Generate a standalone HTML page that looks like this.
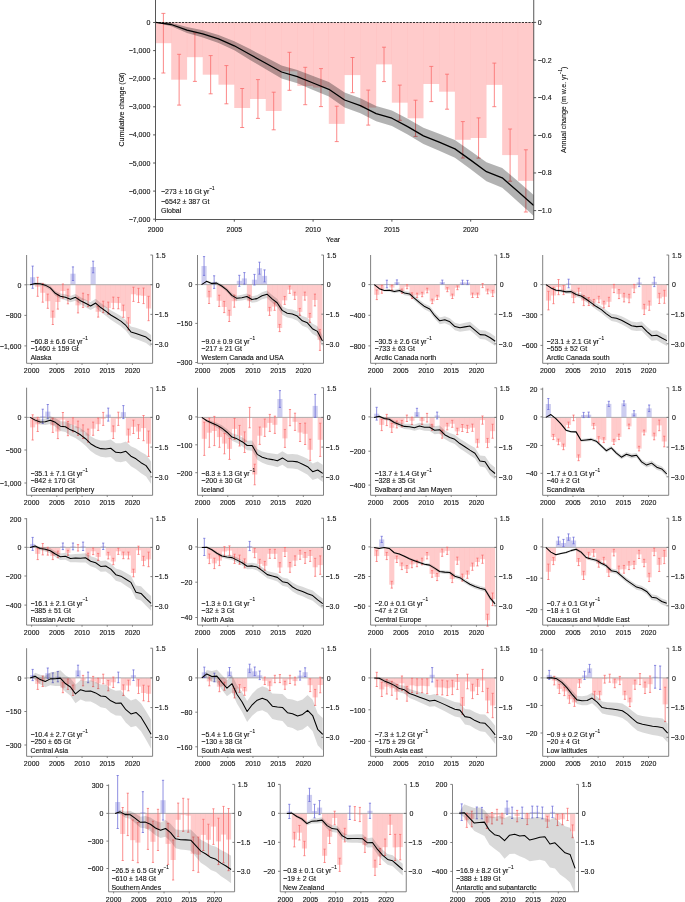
<!DOCTYPE html>
<html><head><meta charset="utf-8"><style>
html,body{margin:0;padding:0;background:#fff;}
svg{display:block;will-change:transform;}
</style></head><body>
<svg width="685" height="902" viewBox="0 0 685 902" font-family='"Liberation Sans", sans-serif'>
<g>
<rect x="155.42" y="22.5" width="15.92" height="20.7" fill="rgba(255,0,0,0.205)"/>
<rect x="171.18" y="22.5" width="15.92" height="57.2" fill="rgba(255,0,0,0.205)"/>
<rect x="186.94" y="22.5" width="15.92" height="34.7" fill="rgba(255,0,0,0.205)"/>
<rect x="202.7" y="22.5" width="15.92" height="52.2" fill="rgba(255,0,0,0.205)"/>
<rect x="218.46" y="22.5" width="15.92" height="62.2" fill="rgba(255,0,0,0.205)"/>
<rect x="234.22" y="22.5" width="15.92" height="85.5" fill="rgba(255,0,0,0.205)"/>
<rect x="249.98" y="22.5" width="15.92" height="76.5" fill="rgba(255,0,0,0.205)"/>
<rect x="265.74" y="22.5" width="15.92" height="88.5" fill="rgba(255,0,0,0.205)"/>
<rect x="281.5" y="22.5" width="15.92" height="48.8" fill="rgba(255,0,0,0.205)"/>
<rect x="297.26" y="22.5" width="15.92" height="63.5" fill="rgba(255,0,0,0.205)"/>
<rect x="313.02" y="22.5" width="15.92" height="65.1" fill="rgba(255,0,0,0.205)"/>
<rect x="328.78" y="22.5" width="15.92" height="101.4" fill="rgba(255,0,0,0.205)"/>
<rect x="344.54" y="22.5" width="15.92" height="52.6" fill="rgba(255,0,0,0.205)"/>
<rect x="360.3" y="22.5" width="15.92" height="85.1" fill="rgba(255,0,0,0.205)"/>
<rect x="376.06" y="22.5" width="15.92" height="41.9" fill="rgba(255,0,0,0.205)"/>
<rect x="391.82" y="22.5" width="15.92" height="80.2" fill="rgba(255,0,0,0.205)"/>
<rect x="407.58" y="22.5" width="15.92" height="95.8" fill="rgba(255,0,0,0.205)"/>
<rect x="423.34" y="22.5" width="15.92" height="61.5" fill="rgba(255,0,0,0.205)"/>
<rect x="439.1" y="22.5" width="15.92" height="69.2" fill="rgba(255,0,0,0.205)"/>
<rect x="454.86" y="22.5" width="15.92" height="117.3" fill="rgba(255,0,0,0.205)"/>
<rect x="470.62" y="22.5" width="15.92" height="115.5" fill="rgba(255,0,0,0.205)"/>
<rect x="486.38" y="22.5" width="15.92" height="62.4" fill="rgba(255,0,0,0.205)"/>
<rect x="502.14" y="22.5" width="15.92" height="132.6" fill="rgba(255,0,0,0.205)"/>
<rect x="517.9" y="22.5" width="15.92" height="158.4" fill="rgba(255,0,0,0.205)"/>
</g>
<g stroke="#fa6b6b" stroke-width="0.8" fill="none">
<path d="M163.38,13.4V73M161.38,13.4H165.38M161.38,73H165.38"/>
<path d="M179.14,54.3V105.1M177.14,54.3H181.14M177.14,105.1H181.14"/>
<path d="M194.9,33V81.4M192.9,33H196.9M192.9,81.4H196.9"/>
<path d="M210.66,55.6V93.8M208.66,55.6H212.66M208.66,93.8H212.66"/>
<path d="M226.42,65.6V103.8M224.42,65.6H228.42M224.42,103.8H228.42"/>
<path d="M242.18,88.5V127.5M240.18,88.5H244.18M240.18,127.5H244.18"/>
<path d="M257.94,79.6V118.4M255.94,79.6H259.94M255.94,118.4H259.94"/>
<path d="M273.7,92.2V129.8M271.7,92.2H275.7M271.7,129.8H275.7"/>
<path d="M289.46,52.3V90.3M287.46,52.3H291.46M287.46,90.3H291.46"/>
<path d="M305.22,67.3V104.7M303.22,67.3H307.22M303.22,104.7H307.22"/>
<path d="M320.98,68.6V106.6M318.98,68.6H322.98M318.98,106.6H322.98"/>
<path d="M336.74,106.2V141.6M334.74,106.2H338.74M334.74,141.6H338.74"/>
<path d="M352.5,57.5V92.7M350.5,57.5H354.5M350.5,92.7H354.5"/>
<path d="M368.26,90.1V125.1M366.26,90.1H370.26M366.26,125.1H370.26"/>
<path d="M384.02,47.2V81.6M382.02,47.2H386.02M382.02,81.6H386.02"/>
<path d="M399.78,85.1V120.3M397.78,85.1H401.78M397.78,120.3H401.78"/>
<path d="M415.54,100.2V136.4M413.54,100.2H417.54M413.54,136.4H417.54"/>
<path d="M431.3,66.4V101.6M429.3,66.4H433.3M429.3,101.6H433.3"/>
<path d="M447.06,74.2V109.2M445.06,74.2H449.06M445.06,109.2H449.06"/>
<path d="M462.82,121.6V158M460.82,121.6H464.82M460.82,158H464.82"/>
<path d="M478.58,117.9V158.1M476.58,117.9H480.58M476.58,158.1H480.58"/>
<path d="M494.34,63.1V106.7M492.34,63.1H496.34M492.34,106.7H496.34"/>
<path d="M510.1,129V181.2M508.1,129H512.1M508.1,181.2H512.1"/>
<path d="M525.86,149.8V212M523.86,149.8H527.86M523.86,212H527.86"/>
</g>
<polygon points="155.5,22.4 171.26,22.7 187.02,27.1 202.78,30.2 218.54,34.9 234.3,41.3 250.06,49.1 265.82,57.35 281.58,65.5 297.34,69.88 313.1,76.05 328.86,82.12 344.62,92.6 360.38,98.17 376.14,106.05 391.9,110.42 407.66,118.7 423.42,127.7 439.18,133.7 454.94,140.1 470.7,150.94 486.46,162.18 502.22,167.92 517.98,181.26 533.74,194.9 533.74,216.1 517.98,201.74 502.22,187.68 486.46,181.22 470.7,169.26 454.94,157.7 439.18,150.7 423.42,144.1 407.66,134.5 391.9,125.98 376.14,121.35 360.38,113.23 344.62,107.4 328.86,96.47 313.1,89.95 297.34,83.32 281.58,78.5 265.82,69.25 250.06,59.9 234.3,50.3 218.54,42.9 202.78,37.4 187.02,33.1 171.26,26.3 155.5,22.4" fill="rgba(0,0,0,0.3)" stroke="none" stroke-linejoin="round"/>
<polyline points="155.5,22.4 171.26,24.5 187.02,30.1 202.78,33.8 218.54,38.9 234.3,45.8 250.06,54.5 265.82,63.3 281.58,72 297.34,76.6 313.1,83 328.86,89.3 344.62,100 360.38,105.7 376.14,113.7 391.9,118.2 407.66,126.6 423.42,135.9 439.18,142.2 454.94,148.9 470.7,160.1 486.46,171.7 502.22,177.8 517.98,191.5 533.74,205.5" fill="none" stroke="#000" stroke-width="1.3" stroke-linejoin="round"/>
<line x1="155.5" y1="22.5" x2="533.74" y2="22.5" stroke="#000" stroke-width="0.8" stroke-dasharray="2.2,1.1"/>
<g stroke="#444" stroke-width="0.9" fill="none">
<path d="M155.5,0V219.5H533.74V0"/>
<path d="M153.1,22.5H155.5"/>
<path d="M153.1,50.6H155.5"/>
<path d="M153.1,78.7H155.5"/>
<path d="M153.1,106.8H155.5"/>
<path d="M153.1,134.9H155.5"/>
<path d="M153.1,163H155.5"/>
<path d="M153.1,191.1H155.5"/>
<path d="M153.1,219.2H155.5"/>
<path d="M533.74,22.4H536.14"/>
<path d="M533.74,60.04H536.14"/>
<path d="M533.74,97.68H536.14"/>
<path d="M533.74,135.32H536.14"/>
<path d="M533.74,172.96H536.14"/>
<path d="M533.74,210.6H536.14"/>
<path d="M155.5,219.5V221.7"/>
<path d="M234.3,219.5V221.7"/>
<path d="M313.1,219.5V221.7"/>
<path d="M391.9,219.5V221.7"/>
<path d="M470.7,219.5V221.7"/>
</g>
<g font-family='"Liberation Sans", sans-serif' fill="#111" stroke="#111" stroke-width="0.12">
<text x="150.3" y="25" font-size="7" text-anchor="end" >0</text>
<text x="150.3" y="53.1" font-size="7" text-anchor="end" >&#8722;1,000</text>
<text x="150.3" y="81.2" font-size="7" text-anchor="end" >&#8722;2,000</text>
<text x="150.3" y="109.3" font-size="7" text-anchor="end" >&#8722;3,000</text>
<text x="150.3" y="137.4" font-size="7" text-anchor="end" >&#8722;4,000</text>
<text x="150.3" y="165.5" font-size="7" text-anchor="end" >&#8722;5,000</text>
<text x="150.3" y="193.6" font-size="7" text-anchor="end" >&#8722;6,000</text>
<text x="150.3" y="221.7" font-size="7" text-anchor="end" >&#8722;7,000</text>
<text x="537.74" y="24.9" font-size="7" text-anchor="start" >0</text>
<text x="537.74" y="62.54" font-size="7" text-anchor="start" >&#8722;0.2</text>
<text x="537.74" y="100.18" font-size="7" text-anchor="start" >&#8722;0.4</text>
<text x="537.74" y="137.82" font-size="7" text-anchor="start" >&#8722;0.6</text>
<text x="537.74" y="175.46" font-size="7" text-anchor="start" >&#8722;0.8</text>
<text x="537.74" y="213.1" font-size="7" text-anchor="start" >&#8722;1.0</text>
<text x="155.5" y="231.5" font-size="7" text-anchor="middle" >2000</text>
<text x="234.3" y="231.5" font-size="7" text-anchor="middle" >2005</text>
<text x="313.1" y="231.5" font-size="7" text-anchor="middle" >2010</text>
<text x="391.9" y="231.5" font-size="7" text-anchor="middle" >2015</text>
<text x="470.7" y="231.5" font-size="7" text-anchor="middle" >2020</text>
<text x="333.1" y="242.2" font-size="7" text-anchor="middle" >Year</text>
<text x="0" y="0" font-size="7" text-anchor="middle" transform="translate(123.8,109.6) rotate(-90)">Cumulative change (Gt)</text>
<text x="0" y="0" font-size="7" text-anchor="middle" transform="translate(565.7,109.8) rotate(-90)">Annual change (m w.e. yr<tspan font-size="4.5" dy="-3.4">&#8722;1</tspan><tspan dy="3.4">)</tspan></text>
<text x="161" y="194.1" font-size="7" text-anchor="start" >&#8722;273 &#177; 16 Gt yr<tspan font-size="4.5" dy="-4.2">&#8722;1</tspan></text>
<text x="161" y="203.6" font-size="7" text-anchor="start" >&#8722;6542 &#177; 387 Gt</text>
<text x="161" y="212.6" font-size="7" text-anchor="start" >Global</text>
</g>
<g>
<rect x="30.07" y="277.2" width="5.16" height="7.5" fill="rgba(40,40,190,0.23)"/>
<rect x="35.11" y="284.7" width="5.16" height="2.1" fill="rgba(255,0,0,0.205)"/>
<rect x="40.15" y="284.7" width="5.16" height="8.1" fill="rgba(255,0,0,0.205)"/>
<rect x="45.19" y="284.7" width="5.16" height="16.5" fill="rgba(255,0,0,0.205)"/>
<rect x="50.23" y="284.7" width="5.16" height="33.1" fill="rgba(255,0,0,0.205)"/>
<rect x="55.27" y="284.7" width="5.16" height="17.3" fill="rgba(255,0,0,0.205)"/>
<rect x="60.31" y="284.7" width="5.16" height="6.3" fill="rgba(255,0,0,0.205)"/>
<rect x="65.35" y="284.7" width="5.16" height="11.8" fill="rgba(255,0,0,0.205)"/>
<rect x="70.39" y="273.7" width="5.16" height="11" fill="rgba(40,40,190,0.23)"/>
<rect x="75.43" y="284.7" width="5.16" height="20.7" fill="rgba(255,0,0,0.205)"/>
<rect x="80.47" y="284.7" width="5.16" height="15.6" fill="rgba(255,0,0,0.205)"/>
<rect x="85.51" y="284.7" width="5.16" height="16" fill="rgba(255,0,0,0.205)"/>
<rect x="90.55" y="267" width="5.16" height="17.7" fill="rgba(40,40,190,0.23)"/>
<rect x="95.59" y="284.7" width="5.16" height="27.1" fill="rgba(255,0,0,0.205)"/>
<rect x="100.63" y="284.7" width="5.16" height="22.2" fill="rgba(255,0,0,0.205)"/>
<rect x="105.67" y="284.7" width="5.16" height="23.4" fill="rgba(255,0,0,0.205)"/>
<rect x="110.71" y="284.7" width="5.16" height="18.2" fill="rgba(255,0,0,0.205)"/>
<rect x="115.75" y="284.7" width="5.16" height="18.4" fill="rgba(255,0,0,0.205)"/>
<rect x="120.79" y="284.7" width="5.16" height="26.5" fill="rgba(255,0,0,0.205)"/>
<rect x="125.83" y="284.7" width="5.16" height="39.1" fill="rgba(255,0,0,0.205)"/>
<rect x="130.87" y="284.7" width="5.16" height="9.6" fill="rgba(255,0,0,0.205)"/>
<rect x="135.91" y="284.7" width="5.16" height="10.7" fill="rgba(255,0,0,0.205)"/>
<rect x="140.95" y="284.7" width="5.16" height="11.1" fill="rgba(255,0,0,0.205)"/>
<rect x="145.99" y="284.7" width="5.16" height="23.8" fill="rgba(255,0,0,0.205)"/>
</g>
<line x1="26.6" y1="284.7" x2="152.6" y2="284.7" stroke="#9a9a9a" stroke-width="0.8"/>
<path d="M37.69,277.3V296.3M36.59,277.3H38.79M36.59,296.3H38.79M42.73,283.4V302.2M41.63,283.4H43.83M41.63,302.2H43.83M47.77,294.1V308.3M46.67,294.1H48.87M46.67,308.3H48.87M52.81,311.1V324.5M51.71,311.1H53.91M51.71,324.5H53.91M57.85,294.9V309.1M56.75,294.9H58.95M56.75,309.1H58.95M62.89,284V298M61.79,284H63.99M61.79,298H63.99M67.93,289.2V303.8M66.83,289.2H69.03M66.83,303.8H69.03M78.01,297.9V312.9M76.91,297.9H79.11M76.91,312.9H79.11M83.05,293.2V307.4M81.95,293.2H84.15M81.95,307.4H84.15M88.09,294.7V306.7M86.99,294.7H89.19M86.99,306.7H89.19M98.17,306.5V317.1M97.07,306.5H99.27M97.07,317.1H99.27M103.21,301.2V312.6M102.11,301.2H104.31M102.11,312.6H104.31M108.25,302.1V314.1M107.15,302.1H109.35M107.15,314.1H109.35M113.29,297.1V308.7M112.19,297.1H114.39M112.19,308.7H114.39M118.33,297.4V308.8M117.23,297.4H119.43M117.23,308.8H119.43M123.37,305.1V317.3M122.27,305.1H124.47M122.27,317.3H124.47M128.41,317.7V329.9M127.31,317.7H129.51M127.31,329.9H129.51M133.45,287.2V301.4M132.35,287.2H134.55M132.35,301.4H134.55M138.49,288.3V302.5M137.39,288.3H139.59M137.39,302.5H139.59M143.53,288V303.6M142.43,288H144.63M142.43,303.6H144.63M148.57,296.3V320.7M147.47,296.3H149.67M147.47,320.7H149.67" stroke="#fa6b6b" stroke-width="0.75" fill="none"/>
<path d="M32.65,266.1V288.3M31.55,266.1H33.75M31.55,288.3H33.75M72.97,266.9V280.5M71.87,266.9H74.07M71.87,280.5H74.07M93.13,261.2V272.8M92.03,261.2H94.23M92.03,272.8H94.23" stroke="#6a6ad8" stroke-width="0.75" fill="none"/>
<clipPath id="cAlaska"><rect x="26.6" y="235" width="126" height="128.3"/></clipPath>
<polygon clip-path="url(#cAlaska)" points="30.13,284.7 35.17,282.56 40.21,282.44 45.25,283.39 50.29,285.78 55.33,290.94 60.37,293.52 65.41,294.3 70.45,296.01 75.49,293.96 80.53,297.15 85.57,299.51 90.61,301.95 95.65,298.83 100.69,303.11 105.73,306.58 110.77,310.26 115.81,313.08 120.85,315.95 125.89,320.15 130.93,326.43 135.97,327.85 141.01,329.45 146.05,331.13 151.09,334.9 151.09,347.1 146.05,343.02 141.01,341.03 135.97,339.11 130.93,337.36 125.89,330.75 120.85,326.21 115.81,323 110.77,319.83 105.73,315.79 100.69,311.94 95.65,307.28 90.61,310 85.57,307.15 80.53,304.37 75.49,300.74 70.45,302.32 65.41,300.13 60.37,298.83 55.33,295.7 50.29,289.95 45.25,286.9 40.21,285.18 35.17,284.37 30.13,284.7" fill="rgba(0,0,0,0.15)" stroke-linejoin="round"/>
<polyline points="30.13,284.7 35.17,283.46 40.21,283.81 45.25,285.15 50.29,287.87 55.33,293.32 60.37,296.18 65.41,297.22 70.45,299.16 75.49,297.35 80.53,300.76 85.57,303.33 90.61,305.97 95.65,303.05 100.69,307.52 105.73,311.18 110.77,315.04 115.81,318.04 120.85,321.08 125.89,325.45 130.93,331.9 135.97,333.48 141.01,335.24 146.05,337.08 151.09,341" fill="none" stroke="#000" stroke-width="1.05" stroke-linejoin="round"/>
<path d="M26.6,255V363.3H152.6V255M24.4,284.8H26.6M24.4,315.4H26.6M24.4,345.9H26.6M150.4,255H152.6M150.4,284.7H152.6M150.4,314.4H152.6M150.4,344.1H152.6M31.64,363.3V364.9M56.84,363.3V364.9M82.04,363.3V364.9M107.24,363.3V364.9M132.44,363.3V364.9" stroke="#6a6a6a" stroke-width="0.85" fill="none"/>
<g fill="#111" stroke="#111" stroke-width="0.12">
<text x="21.4" y="287.6" font-size="7" text-anchor="end" >0</text>
<text x="21.4" y="318.2" font-size="7" text-anchor="end" >&#8722;800</text>
<text x="21.4" y="348.7" font-size="7" text-anchor="end" >&#8722;1,600</text>
<text x="155.8" y="257.8" font-size="7" text-anchor="start" >1.5</text>
<text x="155.8" y="287.5" font-size="7" text-anchor="start" >0</text>
<text x="154.6" y="317.2" font-size="7" text-anchor="start" >&#8722;1.5</text>
<text x="154.6" y="346.9" font-size="7" text-anchor="start" >&#8722;3.0</text>
<text x="31.64" y="373.1" font-size="7" text-anchor="middle" >2000</text>
<text x="56.84" y="373.1" font-size="7" text-anchor="middle" >2005</text>
<text x="82.04" y="373.1" font-size="7" text-anchor="middle" >2010</text>
<text x="107.24" y="373.1" font-size="7" text-anchor="middle" >2015</text>
<text x="132.44" y="373.1" font-size="7" text-anchor="middle" >2020</text>
<text x="30.4" y="343.7" font-size="7" text-anchor="start" >&#8722;60.8 &#177; 6.6 Gt yr<tspan font-size="4.6" dy="-4.2">&#8722;1</tspan></text>
<text x="30.4" y="351.1" font-size="7" text-anchor="start" >&#8722;1460 &#177; 159 Gt</text>
<text x="30.4" y="359.8" font-size="7" text-anchor="start" >Alaska</text>
</g>
<g>
<rect x="201.47" y="266" width="5.16" height="18.6" fill="rgba(40,40,190,0.23)"/>
<rect x="206.51" y="284.6" width="5.16" height="12.8" fill="rgba(255,0,0,0.205)"/>
<rect x="211.55" y="282.1" width="5.16" height="2.5" fill="rgba(40,40,190,0.23)"/>
<rect x="216.59" y="284.6" width="5.16" height="16.2" fill="rgba(255,0,0,0.205)"/>
<rect x="221.63" y="284.6" width="5.16" height="22.4" fill="rgba(255,0,0,0.205)"/>
<rect x="226.67" y="284.6" width="5.16" height="31.3" fill="rgba(255,0,0,0.205)"/>
<rect x="231.71" y="284.6" width="5.16" height="16.6" fill="rgba(255,0,0,0.205)"/>
<rect x="236.75" y="280.8" width="5.16" height="3.8" fill="rgba(40,40,190,0.23)"/>
<rect x="241.79" y="278.4" width="5.16" height="6.2" fill="rgba(40,40,190,0.23)"/>
<rect x="246.83" y="284.6" width="5.16" height="16.6" fill="rgba(255,0,0,0.205)"/>
<rect x="251.87" y="279.7" width="5.16" height="4.9" fill="rgba(40,40,190,0.23)"/>
<rect x="256.91" y="268.2" width="5.16" height="16.4" fill="rgba(40,40,190,0.23)"/>
<rect x="261.95" y="275.9" width="5.16" height="8.7" fill="rgba(40,40,190,0.23)"/>
<rect x="266.99" y="284.6" width="5.16" height="26.8" fill="rgba(255,0,0,0.205)"/>
<rect x="272.03" y="284.6" width="5.16" height="22" fill="rgba(255,0,0,0.205)"/>
<rect x="277.07" y="284.6" width="5.16" height="43.4" fill="rgba(255,0,0,0.205)"/>
<rect x="282.11" y="284.6" width="5.16" height="15.8" fill="rgba(255,0,0,0.205)"/>
<rect x="287.15" y="284.6" width="5.16" height="5.1" fill="rgba(255,0,0,0.205)"/>
<rect x="292.19" y="284.6" width="5.16" height="11.2" fill="rgba(255,0,0,0.205)"/>
<rect x="297.23" y="284.6" width="5.16" height="27.3" fill="rgba(255,0,0,0.205)"/>
<rect x="302.27" y="284.6" width="5.16" height="11.5" fill="rgba(255,0,0,0.205)"/>
<rect x="307.31" y="284.6" width="5.16" height="33.3" fill="rgba(255,0,0,0.205)"/>
<rect x="312.35" y="284.6" width="5.16" height="15.4" fill="rgba(255,0,0,0.205)"/>
<rect x="317.39" y="284.6" width="5.16" height="55.3" fill="rgba(255,0,0,0.205)"/>
</g>
<line x1="197.5" y1="284.6" x2="323.5" y2="284.6" stroke="#9a9a9a" stroke-width="0.8"/>
<path d="M209.09,291.3V303.5M207.99,291.3H210.19M207.99,303.5H210.19M219.17,295.2V306.4M218.07,295.2H220.27M218.07,306.4H220.27M224.21,301.4V312.6M223.11,301.4H225.31M223.11,312.6H225.31M229.25,310.3V321.5M228.15,310.3H230.35M228.15,321.5H230.35M234.29,295.2V307.2M233.19,295.2H235.39M233.19,307.2H235.39M249.41,295.2V307.2M248.31,295.2H250.51M248.31,307.2H250.51M269.57,307.4V315.4M268.47,307.4H270.67M268.47,315.4H270.67M274.61,302.9V310.3M273.51,302.9H275.71M273.51,310.3H275.71M279.65,324.4V331.6M278.55,324.4H280.75M278.55,331.6H280.75M284.69,296.4V304.4M283.59,296.4H285.79M283.59,304.4H285.79M289.73,286V293.4M288.63,286H290.83M288.63,293.4H290.83M294.77,292.2V299.4M293.67,292.2H295.87M293.67,299.4H295.87M299.81,308.4V315.4M298.71,308.4H300.91M298.71,315.4H300.91M304.85,292.1V300.1M303.75,292.1H305.95M303.75,300.1H305.95M309.89,313.4V322.4M308.79,313.4H310.99M308.79,322.4H310.99M314.93,294.1V305.9M313.83,294.1H316.03M313.83,305.9H316.03M319.97,329.4V350.4M318.87,329.4H321.07M318.87,350.4H321.07" stroke="#fa6b6b" stroke-width="0.75" fill="none"/>
<path d="M204.05,256.6V275.4M202.95,256.6H205.15M202.95,275.4H205.15M214.13,275.8V288.4M213.03,275.8H215.23M213.03,288.4H215.23M239.33,275.3V286.3M238.23,275.3H240.43M238.23,286.3H240.43M244.37,272.6V284.2M243.27,272.6H245.47M243.27,284.2H245.47M254.45,274.4V285M253.35,274.4H255.55M253.35,285H255.55M259.49,262.2V274.2M258.39,262.2H260.59M258.39,274.2H260.59M264.53,269.9V281.9M263.43,269.9H265.63M263.43,281.9H265.63" stroke="#6a6ad8" stroke-width="0.75" fill="none"/>
<clipPath id="cWCUSA"><rect x="197.5" y="235" width="126" height="128.3"/></clipPath>
<polygon clip-path="url(#cWCUSA)" points="201.53,284.6 206.57,280.53 211.61,282.37 216.65,281.59 221.69,284.14 226.73,287.81 231.77,293.06 236.81,295.75 241.85,294.87 246.89,293.57 251.93,296.29 256.97,295.24 262.01,292.18 267.05,290.48 272.09,295.01 277.13,298.71 282.17,306.17 287.21,308.78 292.25,309.53 297.29,311.34 302.33,315.99 307.37,317.86 312.41,323.57 317.45,326.13 322.49,335.7 322.49,346.5 317.45,336.66 312.41,333.82 307.37,327.83 302.33,325.67 297.29,320.73 292.25,318.61 287.21,317.57 282.17,314.64 277.13,306.86 272.09,302.83 267.05,297.96 262.01,299.31 256.97,302.01 251.93,302.68 246.89,299.57 241.85,300.45 236.81,300.9 231.77,297.76 226.73,292.03 221.69,287.83 216.65,284.69 211.61,284.8 206.57,282.14 201.53,284.6" fill="rgba(0,0,0,0.15)" stroke-linejoin="round"/>
<polyline points="201.53,284.6 206.57,281.34 211.61,283.58 216.65,283.14 221.69,285.99 226.73,289.92 231.77,295.41 236.81,298.33 241.85,297.66 246.89,296.57 251.93,299.48 256.97,298.62 262.01,295.75 267.05,294.22 272.09,298.92 277.13,302.78 282.17,310.4 287.21,313.17 292.25,314.07 297.29,316.04 302.33,320.83 307.37,322.85 312.41,328.69 317.45,331.39 322.49,341.1" fill="none" stroke="#000" stroke-width="1.05" stroke-linejoin="round"/>
<path d="M197.5,255V363.3H323.5V255M195.3,284.6H197.5M195.3,323.4H197.5M195.3,362.5H197.5M321.3,255H323.5M321.3,284.6H323.5M321.3,314.2H323.5M321.3,343.8H323.5M202.54,363.3V364.9M227.74,363.3V364.9M252.94,363.3V364.9M278.14,363.3V364.9M303.34,363.3V364.9" stroke="#6a6a6a" stroke-width="0.85" fill="none"/>
<g fill="#111" stroke="#111" stroke-width="0.12">
<text x="192.3" y="287.4" font-size="7" text-anchor="end" >0</text>
<text x="192.3" y="326.2" font-size="7" text-anchor="end" >&#8722;150</text>
<text x="192.3" y="365.3" font-size="7" text-anchor="end" >&#8722;300</text>
<text x="326.7" y="257.8" font-size="7" text-anchor="start" >1.5</text>
<text x="326.7" y="287.4" font-size="7" text-anchor="start" >0</text>
<text x="325.5" y="317" font-size="7" text-anchor="start" >&#8722;1.5</text>
<text x="325.5" y="346.6" font-size="7" text-anchor="start" >&#8722;3.0</text>
<text x="202.54" y="373.1" font-size="7" text-anchor="middle" >2000</text>
<text x="227.74" y="373.1" font-size="7" text-anchor="middle" >2005</text>
<text x="252.94" y="373.1" font-size="7" text-anchor="middle" >2010</text>
<text x="278.14" y="373.1" font-size="7" text-anchor="middle" >2015</text>
<text x="303.34" y="373.1" font-size="7" text-anchor="middle" >2020</text>
<text x="201.3" y="343.7" font-size="7" text-anchor="start" >&#8722;9.0 &#177; 0.9 Gt yr<tspan font-size="4.6" dy="-4.2">&#8722;1</tspan></text>
<text x="201.3" y="351.1" font-size="7" text-anchor="start" >&#8722;217 &#177; 21 Gt</text>
<text x="201.3" y="359.8" font-size="7" text-anchor="start" >Western Canada and USA</text>
</g>
<g>
<rect x="374.22" y="284.6" width="5.16" height="10.2" fill="rgba(255,0,0,0.205)"/>
<rect x="379.26" y="284.6" width="5.16" height="4.6" fill="rgba(255,0,0,0.205)"/>
<rect x="384.3" y="284" width="5.16" height="0.6" fill="rgba(40,40,190,0.23)"/>
<rect x="389.34" y="284.6" width="5.16" height="3" fill="rgba(255,0,0,0.205)"/>
<rect x="394.38" y="282.1" width="5.16" height="2.5" fill="rgba(40,40,190,0.23)"/>
<rect x="399.42" y="284.6" width="5.16" height="6.5" fill="rgba(255,0,0,0.205)"/>
<rect x="404.46" y="284.6" width="5.16" height="2.1" fill="rgba(255,0,0,0.205)"/>
<rect x="409.5" y="284.6" width="5.16" height="11" fill="rgba(255,0,0,0.205)"/>
<rect x="414.54" y="284.6" width="5.16" height="10.7" fill="rgba(255,0,0,0.205)"/>
<rect x="419.58" y="284.6" width="5.16" height="9.9" fill="rgba(255,0,0,0.205)"/>
<rect x="424.62" y="284.6" width="5.16" height="5.9" fill="rgba(255,0,0,0.205)"/>
<rect x="429.66" y="284.6" width="5.16" height="16.8" fill="rgba(255,0,0,0.205)"/>
<rect x="434.7" y="284.6" width="5.16" height="12.8" fill="rgba(255,0,0,0.205)"/>
<rect x="439.74" y="282" width="5.16" height="2.6" fill="rgba(40,40,190,0.23)"/>
<rect x="444.78" y="284.6" width="5.16" height="5.1" fill="rgba(255,0,0,0.205)"/>
<rect x="449.82" y="284.6" width="5.16" height="11.7" fill="rgba(255,0,0,0.205)"/>
<rect x="454.86" y="284.6" width="5.16" height="3.2" fill="rgba(255,0,0,0.205)"/>
<rect x="459.9" y="282.3" width="5.16" height="2.3" fill="rgba(40,40,190,0.23)"/>
<rect x="464.94" y="282.5" width="5.16" height="2.1" fill="rgba(40,40,190,0.23)"/>
<rect x="469.98" y="284.6" width="5.16" height="10.7" fill="rgba(255,0,0,0.205)"/>
<rect x="475.02" y="284.6" width="5.16" height="10.7" fill="rgba(255,0,0,0.205)"/>
<rect x="480.06" y="284.6" width="5.16" height="1" fill="rgba(255,0,0,0.205)"/>
<rect x="485.1" y="284.6" width="5.16" height="6.9" fill="rgba(255,0,0,0.205)"/>
<rect x="490.14" y="284.6" width="5.16" height="8.8" fill="rgba(255,0,0,0.205)"/>
</g>
<line x1="370.6" y1="284.6" x2="496.6" y2="284.6" stroke="#9a9a9a" stroke-width="0.8"/>
<path d="M376.8,290V299.6M375.7,290H377.9M375.7,299.6H377.9M381.84,285.2V293.2M380.74,285.2H382.94M380.74,293.2H382.94M391.92,285.1V290.1M390.82,285.1H393.02M390.82,290.1H393.02M402,289V293.2M400.9,289H403.1M400.9,293.2H403.1M407.04,284.7V288.7M405.94,284.7H408.14M405.94,288.7H408.14M412.08,292.8V298.4M410.98,292.8H413.18M410.98,298.4H413.18M417.12,293.2V297.4M416.02,293.2H418.22M416.02,297.4H418.22M422.16,292.3V296.7M421.06,292.3H423.26M421.06,296.7H423.26M427.2,288.2V292.8M426.1,288.2H428.3M426.1,292.8H428.3M432.24,299.2V303.6M431.14,299.2H433.34M431.14,303.6H433.34M437.28,295.3V299.5M436.18,295.3H438.38M436.18,299.5H438.38M447.36,287.7V291.7M446.26,287.7H448.46M446.26,291.7H448.46M452.4,294.1V298.5M451.3,294.1H453.5M451.3,298.5H453.5M457.44,285.9V289.7M456.34,285.9H458.54M456.34,289.7H458.54M472.56,293.1V297.5M471.46,293.1H473.66M471.46,297.5H473.66M477.6,293.1V297.5M476.5,293.1H478.7M476.5,297.5H478.7M482.64,283.6V287.6M481.54,283.6H483.74M481.54,287.6H483.74M487.68,289.2V293.8M486.58,289.2H488.78M486.58,293.8H488.78M492.72,290.3V296.5M491.62,290.3H493.82M491.62,296.5H493.82" stroke="#fa6b6b" stroke-width="0.75" fill="none"/>
<path d="M386.88,280.2V287.8M385.78,280.2H387.98M385.78,287.8H387.98M396.96,279.9V284.3M395.86,279.9H398.06M395.86,284.3H398.06M442.32,280.1V283.9M441.22,280.1H443.42M441.22,283.9H443.42M462.48,280.2V284.4M461.38,280.2H463.58M461.38,284.4H463.58M467.52,280.4V284.6M466.42,280.4H468.62M466.42,284.6H468.62" stroke="#6a6ad8" stroke-width="0.75" fill="none"/>
<clipPath id="cACN"><rect x="370.6" y="235" width="126" height="128.3"/></clipPath>
<polygon clip-path="url(#cACN)" points="374.28,284.6 379.32,287.97 384.36,289.45 389.4,288.91 394.44,289.85 399.48,288.62 404.52,291.01 409.56,291.64 414.6,295.86 419.64,299.97 424.68,303.76 429.72,305.96 434.76,312.53 439.8,317.5 444.84,316.31 449.88,318.21 454.92,322.75 459.96,323.89 465,322.84 470.04,321.86 475.08,326.02 480.12,330.18 485.16,330.45 490.2,333.09 495.24,336.5 495.24,346.1 490.2,342.45 485.16,339.56 480.12,339.04 475.08,334.62 470.04,330.21 465,330.91 459.96,331.7 454.92,330.28 449.88,325.45 444.84,323.26 439.8,324.15 434.76,318.86 429.72,311.97 424.68,309.44 419.64,305.3 414.6,300.83 409.56,296.23 404.52,295.18 399.48,292.36 394.44,293.13 389.4,291.67 384.36,291.61 379.32,289.4 374.28,284.6" fill="rgba(0,0,0,0.15)" stroke-linejoin="round"/>
<polyline points="374.28,284.6 379.32,288.69 384.36,290.53 389.4,290.29 394.44,291.49 399.48,290.49 404.52,293.09 409.56,293.94 414.6,298.34 419.64,302.63 424.68,306.6 429.72,308.96 434.76,315.69 439.8,320.82 444.84,319.78 449.88,321.83 454.92,326.51 459.96,327.8 465,326.87 470.04,326.03 475.08,330.32 480.12,334.61 485.16,335.01 490.2,337.77 495.24,341.3" fill="none" stroke="#000" stroke-width="1.05" stroke-linejoin="round"/>
<path d="M370.6,255V363.3H496.6V255M368.4,284.6H370.6M368.4,315.3H370.6M368.4,345.9H370.6M494.4,255H496.6M494.4,284.6H496.6M494.4,314.2H496.6M494.4,343.8H496.6M375.64,363.3V364.9M400.84,363.3V364.9M426.04,363.3V364.9M451.24,363.3V364.9M476.44,363.3V364.9" stroke="#6a6a6a" stroke-width="0.85" fill="none"/>
<g fill="#111" stroke="#111" stroke-width="0.12">
<text x="365.4" y="287.4" font-size="7" text-anchor="end" >0</text>
<text x="365.4" y="318.1" font-size="7" text-anchor="end" >&#8722;400</text>
<text x="365.4" y="348.7" font-size="7" text-anchor="end" >&#8722;800</text>
<text x="499.8" y="257.8" font-size="7" text-anchor="start" >1.5</text>
<text x="499.8" y="287.4" font-size="7" text-anchor="start" >0</text>
<text x="498.6" y="317" font-size="7" text-anchor="start" >&#8722;1.5</text>
<text x="498.6" y="346.6" font-size="7" text-anchor="start" >&#8722;3.0</text>
<text x="375.64" y="373.1" font-size="7" text-anchor="middle" >2000</text>
<text x="400.84" y="373.1" font-size="7" text-anchor="middle" >2005</text>
<text x="426.04" y="373.1" font-size="7" text-anchor="middle" >2010</text>
<text x="451.24" y="373.1" font-size="7" text-anchor="middle" >2015</text>
<text x="476.44" y="373.1" font-size="7" text-anchor="middle" >2020</text>
<text x="374.4" y="343.7" font-size="7" text-anchor="start" >&#8722;30.5 &#177; 2.6 Gt yr<tspan font-size="4.6" dy="-4.2">&#8722;1</tspan></text>
<text x="374.4" y="351.1" font-size="7" text-anchor="start" >&#8722;733 &#177; 63 Gt</text>
<text x="374.4" y="359.8" font-size="7" text-anchor="start" >Arctic Canada north</text>
</g>
<g>
<rect x="545.87" y="284.6" width="5.16" height="16" fill="rgba(255,0,0,0.205)"/>
<rect x="550.91" y="284.6" width="5.16" height="10.9" fill="rgba(255,0,0,0.205)"/>
<rect x="555.95" y="284.6" width="5.16" height="2.5" fill="rgba(255,0,0,0.205)"/>
<rect x="560.99" y="284.6" width="5.16" height="5.5" fill="rgba(255,0,0,0.205)"/>
<rect x="566.03" y="283.5" width="5.16" height="1.1" fill="rgba(40,40,190,0.23)"/>
<rect x="571.07" y="284.6" width="5.16" height="13.4" fill="rgba(255,0,0,0.205)"/>
<rect x="576.11" y="284.6" width="5.16" height="7.3" fill="rgba(255,0,0,0.205)"/>
<rect x="581.15" y="284.6" width="5.16" height="16" fill="rgba(255,0,0,0.205)"/>
<rect x="586.19" y="284.6" width="5.16" height="16.9" fill="rgba(255,0,0,0.205)"/>
<rect x="591.23" y="284.6" width="5.16" height="18" fill="rgba(255,0,0,0.205)"/>
<rect x="596.27" y="284.6" width="5.16" height="14.9" fill="rgba(255,0,0,0.205)"/>
<rect x="601.31" y="284.6" width="5.16" height="20" fill="rgba(255,0,0,0.205)"/>
<rect x="606.35" y="284.6" width="5.16" height="17.2" fill="rgba(255,0,0,0.205)"/>
<rect x="611.39" y="284.6" width="5.16" height="3.9" fill="rgba(255,0,0,0.205)"/>
<rect x="616.43" y="284.6" width="5.16" height="9.5" fill="rgba(255,0,0,0.205)"/>
<rect x="621.47" y="284.6" width="5.16" height="13" fill="rgba(255,0,0,0.205)"/>
<rect x="626.51" y="284.6" width="5.16" height="13.9" fill="rgba(255,0,0,0.205)"/>
<rect x="631.55" y="284.6" width="5.16" height="3.9" fill="rgba(255,0,0,0.205)"/>
<rect x="636.59" y="282.4" width="5.16" height="2.2" fill="rgba(40,40,190,0.23)"/>
<rect x="641.63" y="284.6" width="5.16" height="24.8" fill="rgba(255,0,0,0.205)"/>
<rect x="646.67" y="284.6" width="5.16" height="21.1" fill="rgba(255,0,0,0.205)"/>
<rect x="651.71" y="281.9" width="5.16" height="2.7" fill="rgba(40,40,190,0.23)"/>
<rect x="656.75" y="284.6" width="5.16" height="13.8" fill="rgba(255,0,0,0.205)"/>
<rect x="661.79" y="284.6" width="5.16" height="12.2" fill="rgba(255,0,0,0.205)"/>
</g>
<line x1="542.7" y1="284.6" x2="668.7" y2="284.6" stroke="#9a9a9a" stroke-width="0.8"/>
<path d="M548.45,291.3V309.9M547.35,291.3H549.55M547.35,309.9H549.55M553.49,287.3V303.7M552.39,287.3H554.59M552.39,303.7H554.59M558.53,279.5V294.7M557.43,279.5H559.63M557.43,294.7H559.63M563.57,285.6V294.6M562.47,285.6H564.67M562.47,294.6H564.67M573.65,293.3V302.7M572.55,293.3H574.75M572.55,302.7H574.75M578.69,288.2V295.6M577.59,288.2H579.79M577.59,295.6H579.79M583.73,295.6V305.6M582.63,295.6H584.83M582.63,305.6H584.83M588.77,297.5V305.5M587.67,297.5H589.87M587.67,305.5H589.87M593.81,299.4V305.8M592.71,299.4H594.91M592.71,305.8H594.91M598.85,296.3V302.7M597.75,296.3H599.95M597.75,302.7H599.95M603.89,301.3V307.9M602.79,301.3H604.99M602.79,307.9H604.99M608.93,297.3V306.3M607.83,297.3H610.03M607.83,306.3H610.03M613.97,284.4V292.6M612.87,284.4H615.07M612.87,292.6H615.07M619.01,289.6V298.6M617.91,289.6H620.11M617.91,298.6H620.11M624.05,293.3V301.9M622.95,293.3H625.15M622.95,301.9H625.15M629.09,294.3V302.7M627.99,294.3H630.19M627.99,302.7H630.19M634.13,284.4V292.6M633.03,284.4H635.23M633.03,292.6H635.23M644.21,304.3V314.5M643.11,304.3H645.31M643.11,314.5H645.31M649.25,301.1V310.3M648.15,301.1H650.35M648.15,310.3H650.35M659.33,293.3V303.5M658.23,293.3H660.43M658.23,303.5H660.43M664.37,290.3V303.3M663.27,290.3H665.47M663.27,303.3H665.47" stroke="#fa6b6b" stroke-width="0.75" fill="none"/>
<path d="M568.61,279.2V287.8M567.51,279.2H569.71M567.51,287.8H569.71M639.17,278.2V286.6M638.07,278.2H640.27M638.07,286.6H640.27M654.29,277.2V286.6M653.19,277.2H655.39M653.19,286.6H655.39" stroke="#6a6ad8" stroke-width="0.75" fill="none"/>
<clipPath id="cACS"><rect x="542.7" y="235" width="126" height="128.3"/></clipPath>
<polygon clip-path="url(#cACS)" points="545.93,284.6 550.97,287.15 556.01,289.01 561.05,289.21 566.09,290.06 571.13,289.58 576.17,292.13 581.21,293.43 586.25,296.55 591.29,299.87 596.33,303.43 601.37,306.35 606.41,310.34 611.45,313.76 616.49,314.4 621.53,316.22 626.57,318.77 631.61,321.51 636.65,322.18 641.69,321.57 646.73,326.6 651.77,330.85 656.81,330.15 661.85,332.89 666.89,335.3 666.89,345.9 661.85,343.22 656.81,340.21 651.77,340.64 646.73,336.1 641.69,330.78 636.65,331.1 631.61,330.13 626.57,327.08 621.53,324.22 616.49,322.07 611.45,321.09 606.41,317.34 601.37,312.99 596.33,309.7 591.29,305.76 586.25,302.03 581.21,298.49 576.17,296.74 571.13,293.71 566.09,293.68 561.05,292.25 556.01,291.4 550.97,288.72 545.93,284.6" fill="rgba(0,0,0,0.15)" stroke-linejoin="round"/>
<polyline points="545.93,284.6 550.97,287.93 556.01,290.21 561.05,290.73 566.09,291.87 571.13,291.64 576.17,294.44 581.21,295.96 586.25,299.29 591.29,302.82 596.33,306.57 601.37,309.67 606.41,313.84 611.45,317.42 616.49,318.24 621.53,320.22 626.57,322.93 631.61,325.82 636.65,326.64 641.69,326.18 646.73,331.35 651.77,335.74 656.81,335.18 661.85,338.06 666.89,340.6" fill="none" stroke="#000" stroke-width="1.05" stroke-linejoin="round"/>
<path d="M542.7,255V363.3H668.7V255M540.5,284.6H542.7M540.5,314.7H542.7M540.5,345.4H542.7M666.5,255H668.7M666.5,284.6H668.7M666.5,314.2H668.7M666.5,343.8H668.7M547.74,363.3V364.9M572.94,363.3V364.9M598.14,363.3V364.9M623.34,363.3V364.9M648.54,363.3V364.9" stroke="#6a6a6a" stroke-width="0.85" fill="none"/>
<g fill="#111" stroke="#111" stroke-width="0.12">
<text x="537.5" y="287.4" font-size="7" text-anchor="end" >0</text>
<text x="537.5" y="317.5" font-size="7" text-anchor="end" >&#8722;300</text>
<text x="537.5" y="348.2" font-size="7" text-anchor="end" >&#8722;600</text>
<text x="671.9" y="257.8" font-size="7" text-anchor="start" >1.5</text>
<text x="671.9" y="287.4" font-size="7" text-anchor="start" >0</text>
<text x="670.7" y="317" font-size="7" text-anchor="start" >&#8722;1.5</text>
<text x="670.7" y="346.6" font-size="7" text-anchor="start" >&#8722;3.0</text>
<text x="547.74" y="373.1" font-size="7" text-anchor="middle" >2000</text>
<text x="572.94" y="373.1" font-size="7" text-anchor="middle" >2005</text>
<text x="598.14" y="373.1" font-size="7" text-anchor="middle" >2010</text>
<text x="623.34" y="373.1" font-size="7" text-anchor="middle" >2015</text>
<text x="648.54" y="373.1" font-size="7" text-anchor="middle" >2020</text>
<text x="546.5" y="343.7" font-size="7" text-anchor="start" >&#8722;23.1 &#177; 2.1 Gt yr<tspan font-size="4.6" dy="-4.2">&#8722;1</tspan></text>
<text x="546.5" y="351.1" font-size="7" text-anchor="start" >&#8722;555 &#177; 52 Gt</text>
<text x="546.5" y="359.8" font-size="7" text-anchor="start" >Arctic Canada south</text>
</g>
<g>
<rect x="30.07" y="417.4" width="5.16" height="10" fill="rgba(255,0,0,0.205)"/>
<rect x="35.11" y="417.4" width="5.16" height="7" fill="rgba(255,0,0,0.205)"/>
<rect x="40.15" y="416.3" width="5.16" height="1.1" fill="rgba(40,40,190,0.23)"/>
<rect x="45.19" y="411.6" width="5.16" height="5.8" fill="rgba(40,40,190,0.23)"/>
<rect x="50.23" y="417.4" width="5.16" height="7.9" fill="rgba(255,0,0,0.205)"/>
<rect x="55.27" y="417.4" width="5.16" height="14.1" fill="rgba(255,0,0,0.205)"/>
<rect x="60.31" y="417.4" width="5.16" height="2.2" fill="rgba(255,0,0,0.205)"/>
<rect x="65.35" y="417.4" width="5.16" height="11.2" fill="rgba(255,0,0,0.205)"/>
<rect x="70.39" y="417.4" width="5.16" height="7.4" fill="rgba(255,0,0,0.205)"/>
<rect x="75.43" y="417.4" width="5.16" height="10.8" fill="rgba(255,0,0,0.205)"/>
<rect x="80.47" y="417.4" width="5.16" height="14.3" fill="rgba(255,0,0,0.205)"/>
<rect x="85.51" y="417.4" width="5.16" height="18.2" fill="rgba(255,0,0,0.205)"/>
<rect x="90.55" y="417.4" width="5.16" height="11.3" fill="rgba(255,0,0,0.205)"/>
<rect x="95.59" y="417.4" width="5.16" height="6.8" fill="rgba(255,0,0,0.205)"/>
<rect x="100.63" y="417.4" width="5.16" height="1.5" fill="rgba(255,0,0,0.205)"/>
<rect x="105.67" y="414.6" width="5.16" height="2.8" fill="rgba(40,40,190,0.23)"/>
<rect x="110.71" y="417.4" width="5.16" height="14.8" fill="rgba(255,0,0,0.205)"/>
<rect x="115.75" y="417.4" width="5.16" height="1.4" fill="rgba(255,0,0,0.205)"/>
<rect x="120.79" y="412.1" width="5.16" height="5.3" fill="rgba(40,40,190,0.23)"/>
<rect x="125.83" y="417.4" width="5.16" height="18.2" fill="rgba(255,0,0,0.205)"/>
<rect x="130.87" y="417.4" width="5.16" height="9.4" fill="rgba(255,0,0,0.205)"/>
<rect x="135.91" y="417.4" width="5.16" height="14.2" fill="rgba(255,0,0,0.205)"/>
<rect x="140.95" y="417.4" width="5.16" height="10.7" fill="rgba(255,0,0,0.205)"/>
<rect x="145.99" y="417.4" width="5.16" height="26.3" fill="rgba(255,0,0,0.205)"/>
</g>
<line x1="26.6" y1="417.4" x2="152.6" y2="417.4" stroke="#9a9a9a" stroke-width="0.8"/>
<path d="M32.65,414.8V440M31.55,414.8H33.75M31.55,440H33.75M37.69,417.3V431.5M36.59,417.3H38.79M36.59,431.5H38.79M52.81,418.2V432.4M51.71,418.2H53.91M51.71,432.4H53.91M57.85,424.4V438.6M56.75,424.4H58.95M56.75,438.6H58.95M62.89,412.5V426.7M61.79,412.5H63.99M61.79,426.7H63.99M67.93,421.5V435.7M66.83,421.5H69.03M66.83,435.7H69.03M72.97,417.8V431.8M71.87,417.8H74.07M71.87,431.8H74.07M78.01,421.1V435.3M76.91,421.1H79.11M76.91,435.3H79.11M83.05,424.9V438.5M81.95,424.9H84.15M81.95,438.5H84.15M88.09,429.1V442.1M86.99,429.1H89.19M86.99,442.1H89.19M93.13,422.1V435.3M92.03,422.1H94.23M92.03,435.3H94.23M98.17,418V430.4M97.07,418H99.27M97.07,430.4H99.27M103.21,412.4V425.4M102.11,412.4H104.31M102.11,425.4H104.31M113.29,425.9V438.5M112.19,425.9H114.39M112.19,438.5H114.39M118.33,412.2V425.4M117.23,412.2H119.43M117.23,425.4H119.43M128.41,429.1V442.1M127.31,429.1H129.51M127.31,442.1H129.51M133.45,420.1V433.5M132.35,420.1H134.55M132.35,433.5H134.55M138.49,424.7V438.5M137.39,424.7H139.59M137.39,438.5H139.59M143.53,415.5V440.7M142.43,415.5H144.63M142.43,440.7H144.63M148.57,431V456.4M147.47,431H149.67M147.47,456.4H149.67" stroke="#fa6b6b" stroke-width="0.75" fill="none"/>
<path d="M42.73,409.2V423.4M41.63,409.2H43.83M41.63,423.4H43.83M47.77,404.5V418.7M46.67,404.5H48.87M46.67,418.7H48.87M108.25,408.1V421.1M107.15,408.1H109.35M107.15,421.1H109.35M123.37,405.6V418.6M122.27,405.6H124.47M122.27,418.6H124.47" stroke="#6a6ad8" stroke-width="0.75" fill="none"/>
<clipPath id="cGreenland"><rect x="26.6" y="367.7" width="126" height="127.6"/></clipPath>
<polygon clip-path="url(#cGreenland)" points="30.13,417.4 35.17,418.47 40.21,419.52 45.25,418.53 50.29,416.34 55.33,417.95 60.37,421.3 65.41,421.43 70.45,424.04 75.49,425.64 80.53,428.19 85.57,431.7 90.61,436.3 95.65,439.03 100.69,440.53 105.73,440.6 110.77,439.5 115.81,443.22 120.85,443.29 125.89,441.53 130.93,446.2 135.97,448.47 141.01,452.06 146.05,454.69 151.09,461.6 151.09,484 146.05,476.53 141.01,473.32 135.97,469.14 130.93,466.28 125.89,461 120.85,462.14 115.81,461.44 110.77,457.07 105.73,457.5 100.69,456.74 95.65,454.53 90.61,451.08 85.57,445.73 80.53,441.43 75.49,438.08 70.45,435.63 65.41,432.12 60.37,431.05 55.33,426.69 50.29,423.98 45.25,424.96 40.21,424.57 35.17,421.8 30.13,417.4" fill="rgba(0,0,0,0.15)" stroke-linejoin="round"/>
<polyline points="30.13,417.4 35.17,420.13 40.21,422.05 45.25,421.75 50.29,420.16 55.33,422.32 60.37,426.17 65.41,426.77 70.45,429.84 75.49,431.86 80.53,434.81 85.57,438.72 90.61,443.69 95.65,446.78 100.69,448.64 105.73,449.05 110.77,448.28 115.81,452.33 120.85,452.71 125.89,451.26 130.93,456.24 135.97,458.81 141.01,462.69 146.05,465.61 151.09,472.8" fill="none" stroke="#000" stroke-width="1.05" stroke-linejoin="round"/>
<path d="M26.6,387.7V495.3H152.6V387.7M24.4,417.3H26.6M24.4,450H26.6M24.4,483H26.6M150.4,387.7H152.6M150.4,417.4H152.6M150.4,447.1H152.6M150.4,476.8H152.6M31.64,495.3V496.9M56.84,495.3V496.9M82.04,495.3V496.9M107.24,495.3V496.9M132.44,495.3V496.9" stroke="#6a6a6a" stroke-width="0.85" fill="none"/>
<g fill="#111" stroke="#111" stroke-width="0.12">
<text x="21.4" y="420.1" font-size="7" text-anchor="end" >0</text>
<text x="21.4" y="452.8" font-size="7" text-anchor="end" >&#8722;500</text>
<text x="21.4" y="485.8" font-size="7" text-anchor="end" >&#8722;1,000</text>
<text x="155.8" y="390.5" font-size="7" text-anchor="start" >1.5</text>
<text x="155.8" y="420.2" font-size="7" text-anchor="start" >0</text>
<text x="154.6" y="449.9" font-size="7" text-anchor="start" >&#8722;1.5</text>
<text x="154.6" y="479.6" font-size="7" text-anchor="start" >&#8722;3.0</text>
<text x="31.64" y="505.1" font-size="7" text-anchor="middle" >2000</text>
<text x="56.84" y="505.1" font-size="7" text-anchor="middle" >2005</text>
<text x="82.04" y="505.1" font-size="7" text-anchor="middle" >2010</text>
<text x="107.24" y="505.1" font-size="7" text-anchor="middle" >2015</text>
<text x="132.44" y="505.1" font-size="7" text-anchor="middle" >2020</text>
<text x="30.4" y="475.7" font-size="7" text-anchor="start" >&#8722;35.1 &#177; 7.1 Gt yr<tspan font-size="4.6" dy="-4.2">&#8722;1</tspan></text>
<text x="30.4" y="483.1" font-size="7" text-anchor="start" >&#8722;842 &#177; 170 Gt</text>
<text x="30.4" y="491.8" font-size="7" text-anchor="start" >Greenland periphery</text>
</g>
<g>
<rect x="201.72" y="417.4" width="5.16" height="21.4" fill="rgba(255,0,0,0.205)"/>
<rect x="206.76" y="417.4" width="5.16" height="15.3" fill="rgba(255,0,0,0.205)"/>
<rect x="211.8" y="417.4" width="5.16" height="13.6" fill="rgba(255,0,0,0.205)"/>
<rect x="216.84" y="417.4" width="5.16" height="19.7" fill="rgba(255,0,0,0.205)"/>
<rect x="221.88" y="417.4" width="5.16" height="26.2" fill="rgba(255,0,0,0.205)"/>
<rect x="226.92" y="417.4" width="5.16" height="31.5" fill="rgba(255,0,0,0.205)"/>
<rect x="231.96" y="417.4" width="5.16" height="11.5" fill="rgba(255,0,0,0.205)"/>
<rect x="237" y="417.4" width="5.16" height="18.3" fill="rgba(255,0,0,0.205)"/>
<rect x="242.04" y="417.4" width="5.16" height="24.8" fill="rgba(255,0,0,0.205)"/>
<rect x="247.08" y="417.4" width="5.16" height="0.2" fill="rgba(255,0,0,0.205)"/>
<rect x="252.12" y="417.4" width="5.16" height="57.1" fill="rgba(255,0,0,0.205)"/>
<rect x="257.16" y="417.4" width="5.16" height="18.3" fill="rgba(255,0,0,0.205)"/>
<rect x="262.2" y="417.4" width="5.16" height="10.3" fill="rgba(255,0,0,0.205)"/>
<rect x="267.24" y="417.4" width="5.16" height="5.5" fill="rgba(255,0,0,0.205)"/>
<rect x="272.28" y="417.4" width="5.16" height="7.4" fill="rgba(255,0,0,0.205)"/>
<rect x="277.32" y="399" width="5.16" height="18.4" fill="rgba(40,40,190,0.23)"/>
<rect x="282.36" y="417.4" width="5.16" height="21" fill="rgba(255,0,0,0.205)"/>
<rect x="287.4" y="417.4" width="5.16" height="0.2" fill="rgba(255,0,0,0.205)"/>
<rect x="292.44" y="417.4" width="5.16" height="4.4" fill="rgba(255,0,0,0.205)"/>
<rect x="297.48" y="417.4" width="5.16" height="15.1" fill="rgba(255,0,0,0.205)"/>
<rect x="302.52" y="417.4" width="5.16" height="16.4" fill="rgba(255,0,0,0.205)"/>
<rect x="307.56" y="417.4" width="5.16" height="32.4" fill="rgba(255,0,0,0.205)"/>
<rect x="312.6" y="405.9" width="5.16" height="11.5" fill="rgba(40,40,190,0.23)"/>
<rect x="317.64" y="417.4" width="5.16" height="22.4" fill="rgba(255,0,0,0.205)"/>
</g>
<line x1="197.5" y1="417.4" x2="323.5" y2="417.4" stroke="#9a9a9a" stroke-width="0.8"/>
<path d="M204.3,422.2V455.4M203.2,422.2H205.4M203.2,455.4H205.4M209.34,418.1V447.3M208.24,418.1H210.44M208.24,447.3H210.44M214.38,416.4V445.6M213.28,416.4H215.48M213.28,445.6H215.48M219.42,426.9V447.3M218.32,426.9H220.52M218.32,447.3H220.52M224.46,433.4V453.8M223.36,433.4H225.56M223.36,453.8H225.56M229.5,438.4V459.4M228.4,438.4H230.6M228.4,459.4H230.6M234.54,418.4V439.4M233.44,418.4H235.64M233.44,439.4H235.64M239.58,425.4V446M238.48,425.4H240.68M238.48,446H240.68M244.62,431.9V452.5M243.52,431.9H245.72M243.52,452.5H245.72M249.66,407.4V427.8M248.56,407.4H250.76M248.56,427.8H250.76M254.7,464.2V484.8M253.6,464.2H255.8M253.6,484.8H255.8M259.74,427V444.4M258.64,427H260.84M258.64,444.4H260.84M264.78,419V436.4M263.68,419H265.88M263.68,436.4H265.88M269.82,414.4V431.4M268.72,414.4H270.92M268.72,431.4H270.92M274.86,416.2V433.4M273.76,416.2H275.96M273.76,433.4H275.96M284.94,429.4V447.4M283.84,429.4H286.04M283.84,447.4H286.04M289.98,409.5V425.7M288.88,409.5H291.08M288.88,425.7H291.08M295.02,413.2V430.4M293.92,413.2H296.12M293.92,430.4H296.12M300.06,423.5V441.5M298.96,423.5H301.16M298.96,441.5H301.16M305.1,423.1V444.5M304,423.1H306.2M304,444.5H306.2M310.14,439.2V460.4M309.04,439.2H311.24M309.04,460.4H311.24M320.22,423.2V456.4M319.12,423.2H321.32M319.12,456.4H321.32" stroke="#fa6b6b" stroke-width="0.75" fill="none"/>
<path d="M279.9,390.6V407.4M278.8,390.6H281M278.8,407.4H281M315.18,394.4V417.4M314.08,394.4H316.28M314.08,417.4H316.28" stroke="#6a6ad8" stroke-width="0.75" fill="none"/>
<clipPath id="cIceland"><rect x="197.5" y="367.7" width="126" height="127.6"/></clipPath>
<polygon clip-path="url(#cIceland)" points="201.78,417.4 206.82,419.42 211.86,421.12 216.9,422.69 221.94,425.26 226.98,428.88 232.02,433.35 237.06,434.76 242.1,437.24 247.14,440.74 252.18,440.46 257.22,448.97 262.26,451.5 267.3,452.81 272.34,453.39 277.38,454.27 282.42,451.17 287.46,454.16 292.5,453.95 297.54,454.39 302.58,456.48 307.62,458.78 312.66,463.56 317.7,461.56 322.74,464.8 322.74,482 317.7,478.33 312.66,479.88 307.62,474.66 302.58,471.9 297.54,469.34 292.5,468.42 287.46,468.15 282.42,464.66 277.38,467.24 272.34,465.84 267.3,464.72 262.26,462.85 257.22,459.74 252.18,450.63 247.14,450.29 242.1,446.14 237.06,442.97 232.02,440.84 226.98,435.59 221.94,431.13 216.9,427.63 211.86,425 206.82,421.98 201.78,417.4" fill="rgba(0,0,0,0.15)" stroke-linejoin="round"/>
<polyline points="201.78,417.4 206.82,420.7 211.86,423.06 216.9,425.16 221.94,428.2 226.98,432.24 232.02,437.09 237.06,438.87 242.1,441.69 247.14,445.52 252.18,445.55 257.22,454.35 262.26,457.18 267.3,458.76 272.34,459.61 277.38,460.75 282.42,457.92 287.46,461.15 292.5,461.19 297.54,461.86 302.58,464.19 307.62,466.72 312.66,471.72 317.7,469.95 322.74,473.4" fill="none" stroke="#000" stroke-width="1.05" stroke-linejoin="round"/>
<path d="M197.5,387.7V495.3H323.5V387.7M195.3,416.9H197.5M195.3,444.8H197.5M195.3,472.7H197.5M321.3,387.7H323.5M321.3,417.4H323.5M321.3,447.1H323.5M321.3,476.8H323.5M202.54,495.3V496.9M227.74,495.3V496.9M252.94,495.3V496.9M278.14,495.3V496.9M303.34,495.3V496.9" stroke="#6a6a6a" stroke-width="0.85" fill="none"/>
<g fill="#111" stroke="#111" stroke-width="0.12">
<text x="192.3" y="419.7" font-size="7" text-anchor="end" >0</text>
<text x="192.3" y="447.6" font-size="7" text-anchor="end" >&#8722;100</text>
<text x="192.3" y="475.5" font-size="7" text-anchor="end" >&#8722;200</text>
<text x="326.7" y="390.5" font-size="7" text-anchor="start" >1.5</text>
<text x="326.7" y="420.2" font-size="7" text-anchor="start" >0</text>
<text x="325.5" y="449.9" font-size="7" text-anchor="start" >&#8722;1.5</text>
<text x="325.5" y="479.6" font-size="7" text-anchor="start" >&#8722;3.0</text>
<text x="202.54" y="505.1" font-size="7" text-anchor="middle" >2000</text>
<text x="227.74" y="505.1" font-size="7" text-anchor="middle" >2005</text>
<text x="252.94" y="505.1" font-size="7" text-anchor="middle" >2010</text>
<text x="278.14" y="505.1" font-size="7" text-anchor="middle" >2015</text>
<text x="303.34" y="505.1" font-size="7" text-anchor="middle" >2020</text>
<text x="201.3" y="475.7" font-size="7" text-anchor="start" >&#8722;8.3 &#177; 1.3 Gt yr<tspan font-size="4.6" dy="-4.2">&#8722;1</tspan></text>
<text x="201.3" y="483.1" font-size="7" text-anchor="start" >&#8722;200 &#177; 30 Gt</text>
<text x="201.3" y="491.8" font-size="7" text-anchor="start" >Iceland</text>
</g>
<g>
<rect x="374.07" y="413.7" width="5.16" height="3.7" fill="rgba(40,40,190,0.23)"/>
<rect x="379.11" y="417.4" width="5.16" height="7.5" fill="rgba(255,0,0,0.205)"/>
<rect x="384.15" y="417.4" width="5.16" height="2.6" fill="rgba(255,0,0,0.205)"/>
<rect x="389.19" y="417.4" width="5.16" height="10.5" fill="rgba(255,0,0,0.205)"/>
<rect x="394.23" y="417.4" width="5.16" height="7" fill="rgba(255,0,0,0.205)"/>
<rect x="399.27" y="417.4" width="5.16" height="6.2" fill="rgba(255,0,0,0.205)"/>
<rect x="404.31" y="417.4" width="5.16" height="0.9" fill="rgba(255,0,0,0.205)"/>
<rect x="409.35" y="417.4" width="5.16" height="3.4" fill="rgba(255,0,0,0.205)"/>
<rect x="414.39" y="412.1" width="5.16" height="5.3" fill="rgba(40,40,190,0.23)"/>
<rect x="419.43" y="417.4" width="5.16" height="3.7" fill="rgba(255,0,0,0.205)"/>
<rect x="424.47" y="417.4" width="5.16" height="0.3" fill="rgba(255,0,0,0.205)"/>
<rect x="429.51" y="417.4" width="5.16" height="9.9" fill="rgba(255,0,0,0.205)"/>
<rect x="434.55" y="415.5" width="5.16" height="1.9" fill="rgba(40,40,190,0.23)"/>
<rect x="439.59" y="417.4" width="5.16" height="16.8" fill="rgba(255,0,0,0.205)"/>
<rect x="444.63" y="417.4" width="5.16" height="9.2" fill="rgba(255,0,0,0.205)"/>
<rect x="449.67" y="417.4" width="5.16" height="6.4" fill="rgba(255,0,0,0.205)"/>
<rect x="454.71" y="417.4" width="5.16" height="14" fill="rgba(255,0,0,0.205)"/>
<rect x="459.75" y="417.4" width="5.16" height="10.6" fill="rgba(255,0,0,0.205)"/>
<rect x="464.79" y="417.4" width="5.16" height="11.5" fill="rgba(255,0,0,0.205)"/>
<rect x="469.83" y="417.4" width="5.16" height="10.3" fill="rgba(255,0,0,0.205)"/>
<rect x="474.87" y="417.4" width="5.16" height="25.8" fill="rgba(255,0,0,0.205)"/>
<rect x="479.91" y="417.4" width="5.16" height="2.7" fill="rgba(255,0,0,0.205)"/>
<rect x="484.95" y="417.4" width="5.16" height="25.6" fill="rgba(255,0,0,0.205)"/>
<rect x="489.99" y="417.4" width="5.16" height="13.8" fill="rgba(255,0,0,0.205)"/>
</g>
<line x1="370.6" y1="417.4" x2="496.6" y2="417.4" stroke="#9a9a9a" stroke-width="0.8"/>
<path d="M381.69,419.2V430.6M380.59,419.2H382.79M380.59,430.6H382.79M386.73,414.4V425.6M385.63,414.4H387.83M385.63,425.6H387.83M391.77,423.4V432.4M390.67,423.4H392.87M390.67,432.4H392.87M396.81,420.9V427.9M395.71,420.9H397.91M395.71,427.9H397.91M401.85,420.4V426.8M400.75,420.4H402.95M400.75,426.8H402.95M406.89,415.1V421.5M405.79,415.1H407.99M405.79,421.5H407.99M411.93,417.2V424.4M410.83,417.2H413.03M410.83,424.4H413.03M422.01,417.8V424.4M420.91,417.8H423.11M420.91,424.4H423.11M427.05,413.4V422M425.95,413.4H428.15M425.95,422H428.15M432.09,424.3V430.3M430.99,424.3H433.19M430.99,430.3H433.19M442.17,430.2V438.2M441.07,430.2H443.27M441.07,438.2H443.27M447.21,423.3V429.9M446.11,423.3H448.31M446.11,429.9H448.31M452.25,420.3V427.3M451.15,420.3H453.35M451.15,427.3H453.35M457.29,428.2V434.6M456.19,428.2H458.39M456.19,434.6H458.39M462.33,424.5V431.5M461.23,424.5H463.43M461.23,431.5H463.43M467.37,425.3V432.5M466.27,425.3H468.47M466.27,432.5H468.47M472.41,424.1V431.3M471.31,424.1H473.51M471.31,431.3H473.51M477.45,439.2V447.2M476.35,439.2H478.55M476.35,447.2H478.55M482.49,416V424.2M481.39,416H483.59M481.39,424.2H483.59M487.53,438.4V447.6M486.43,438.4H488.63M486.43,447.6H488.63M492.57,424.2V438.2M491.47,424.2H493.67M491.47,438.2H493.67" stroke="#fa6b6b" stroke-width="0.75" fill="none"/>
<path d="M376.65,407.3V420.1M375.55,407.3H377.75M375.55,420.1H377.75M416.97,408.3V415.9M415.87,408.3H418.07M415.87,415.9H418.07M437.13,412.1V418.9M436.03,412.1H438.23M436.03,418.9H438.23" stroke="#6a6ad8" stroke-width="0.75" fill="none"/>
<clipPath id="cSvalbard"><rect x="370.6" y="367.7" width="126" height="127.6"/></clipPath>
<polygon clip-path="url(#cSvalbard)" points="374.13,417.4 379.17,415.4 384.21,417.18 389.25,417.59 394.29,420.4 399.33,422.2 404.37,423.78 409.41,423.8 414.45,424.57 419.49,422.76 424.53,423.65 429.57,423.53 434.61,426.29 439.65,425.52 444.69,430.35 449.73,432.92 454.77,434.65 459.81,438.66 464.85,441.66 469.89,444.92 474.93,447.84 479.97,455.39 485.01,456.04 490.05,463.53 495.09,467.5 495.09,479.5 490.05,475.23 485.01,467.43 479.97,466.46 474.93,458.6 469.89,455.36 464.85,451.75 459.81,448.42 454.77,444.06 449.73,441.97 444.69,439.04 439.65,433.83 434.61,434.2 429.57,431.04 424.53,430.75 419.49,429.42 414.45,430.78 409.41,429.53 404.37,429 399.33,426.88 394.29,424.5 389.25,421.03 384.21,419.89 379.17,417.19 374.13,417.4" fill="rgba(0,0,0,0.15)" stroke-linejoin="round"/>
<polyline points="374.13,417.4 379.17,416.29 384.21,418.54 389.25,419.31 394.29,422.45 399.33,424.54 404.37,426.39 409.41,426.66 414.45,427.68 419.49,426.09 424.53,427.2 429.57,427.29 434.61,430.25 439.65,429.68 444.69,434.7 449.73,437.44 454.77,439.36 459.81,443.54 464.85,446.7 469.89,450.14 474.93,453.22 479.97,460.92 485.01,461.73 490.05,469.38 495.09,473.5" fill="none" stroke="#000" stroke-width="1.05" stroke-linejoin="round"/>
<path d="M370.6,387.7V495.3H496.6V387.7M368.4,416.9H370.6M368.4,451.2H370.6M368.4,485.1H370.6M494.4,387.7H496.6M494.4,417.4H496.6M494.4,447.1H496.6M494.4,476.8H496.6M375.64,495.3V496.9M400.84,495.3V496.9M426.04,495.3V496.9M451.24,495.3V496.9M476.44,495.3V496.9" stroke="#6a6a6a" stroke-width="0.85" fill="none"/>
<g fill="#111" stroke="#111" stroke-width="0.12">
<text x="365.4" y="419.7" font-size="7" text-anchor="end" >0</text>
<text x="365.4" y="454" font-size="7" text-anchor="end" >&#8722;200</text>
<text x="365.4" y="487.9" font-size="7" text-anchor="end" >&#8722;400</text>
<text x="499.8" y="390.5" font-size="7" text-anchor="start" >1.5</text>
<text x="499.8" y="420.2" font-size="7" text-anchor="start" >0</text>
<text x="498.6" y="449.9" font-size="7" text-anchor="start" >&#8722;1.5</text>
<text x="498.6" y="479.6" font-size="7" text-anchor="start" >&#8722;3.0</text>
<text x="375.64" y="505.1" font-size="7" text-anchor="middle" >2000</text>
<text x="400.84" y="505.1" font-size="7" text-anchor="middle" >2005</text>
<text x="426.04" y="505.1" font-size="7" text-anchor="middle" >2010</text>
<text x="451.24" y="505.1" font-size="7" text-anchor="middle" >2015</text>
<text x="476.44" y="505.1" font-size="7" text-anchor="middle" >2020</text>
<text x="374.4" y="475.7" font-size="7" text-anchor="start" >&#8722;13.7 &#177; 1.4 Gt yr<tspan font-size="4.6" dy="-4.2">&#8722;1</tspan></text>
<text x="374.4" y="483.1" font-size="7" text-anchor="start" >&#8722;328 &#177; 35 Gt</text>
<text x="374.4" y="491.8" font-size="7" text-anchor="start" >Svalbard and Jan Mayen</text>
</g>
<g>
<rect x="545.76" y="404" width="5.16" height="13.4" fill="rgba(40,40,190,0.23)"/>
<rect x="550.8" y="417.4" width="5.16" height="19.6" fill="rgba(255,0,0,0.205)"/>
<rect x="555.84" y="417.4" width="5.16" height="24.5" fill="rgba(255,0,0,0.205)"/>
<rect x="560.88" y="417.4" width="5.16" height="29.5" fill="rgba(255,0,0,0.205)"/>
<rect x="565.92" y="417.4" width="5.16" height="7.5" fill="rgba(255,0,0,0.205)"/>
<rect x="570.96" y="417.4" width="5.16" height="0.5" fill="rgba(255,0,0,0.205)"/>
<rect x="576" y="417.4" width="5.16" height="40.4" fill="rgba(255,0,0,0.205)"/>
<rect x="581.04" y="415" width="5.16" height="2.4" fill="rgba(40,40,190,0.23)"/>
<rect x="586.08" y="414.7" width="5.16" height="2.7" fill="rgba(40,40,190,0.23)"/>
<rect x="591.12" y="417.4" width="5.16" height="8.7" fill="rgba(255,0,0,0.205)"/>
<rect x="596.16" y="417.4" width="5.16" height="22" fill="rgba(255,0,0,0.205)"/>
<rect x="601.2" y="417.4" width="5.16" height="22.8" fill="rgba(255,0,0,0.205)"/>
<rect x="606.24" y="403.9" width="5.16" height="13.5" fill="rgba(40,40,190,0.23)"/>
<rect x="611.28" y="417.4" width="5.16" height="24.5" fill="rgba(255,0,0,0.205)"/>
<rect x="616.32" y="417.4" width="5.16" height="19.5" fill="rgba(255,0,0,0.205)"/>
<rect x="621.36" y="403.3" width="5.16" height="14.1" fill="rgba(40,40,190,0.23)"/>
<rect x="626.4" y="417.4" width="5.16" height="9" fill="rgba(255,0,0,0.205)"/>
<rect x="631.44" y="413.3" width="5.16" height="4.1" fill="rgba(40,40,190,0.23)"/>
<rect x="636.48" y="417.4" width="5.16" height="31.2" fill="rgba(255,0,0,0.205)"/>
<rect x="641.52" y="417.4" width="5.16" height="15.1" fill="rgba(255,0,0,0.205)"/>
<rect x="646.56" y="408.3" width="5.16" height="9.1" fill="rgba(40,40,190,0.23)"/>
<rect x="651.6" y="417.4" width="5.16" height="19.1" fill="rgba(255,0,0,0.205)"/>
<rect x="656.64" y="417.4" width="5.16" height="8" fill="rgba(255,0,0,0.205)"/>
<rect x="661.68" y="417.4" width="5.16" height="24.1" fill="rgba(255,0,0,0.205)"/>
</g>
<line x1="542.7" y1="417.4" x2="668.7" y2="417.4" stroke="#9a9a9a" stroke-width="0.8"/>
<path d="M553.38,434.4V439.6M552.28,434.4H554.48M552.28,439.6H554.48M558.42,439.1V444.7M557.32,439.1H559.52M557.32,444.7H559.52M563.46,444.1V449.7M562.36,444.1H564.56M562.36,449.7H564.56M568.5,422.1V427.7M567.4,422.1H569.6M567.4,427.7H569.6M573.54,415.1V420.7M572.44,415.1H574.64M572.44,420.7H574.64M578.58,454.9V460.7M577.48,454.9H579.68M577.48,460.7H579.68M593.7,423.4V428.8M592.6,423.4H594.8M592.6,428.8H594.8M598.74,436.7V442.1M597.64,436.7H599.84M597.64,442.1H599.84M603.78,437.8V442.6M602.68,437.8H604.88M602.68,442.6H604.88M613.86,439.3V444.5M612.76,439.3H614.96M612.76,444.5H614.96M618.9,434.2V439.6M617.8,434.2H620M617.8,439.6H620M628.98,424.1V428.7M627.88,424.1H630.08M627.88,428.7H630.08M639.06,446.3V450.9M637.96,446.3H640.16M637.96,450.9H640.16M644.1,430.1V434.9M643,430.1H645.2M643,434.9H645.2M654.18,433.2V439.8M653.08,433.2H655.28M653.08,439.8H655.28M659.22,420.1V430.7M658.12,420.1H660.32M658.12,430.7H660.32M664.26,436.2V446.8M663.16,436.2H665.36M663.16,446.8H665.36" stroke="#fa6b6b" stroke-width="0.75" fill="none"/>
<path d="M548.34,398.5V409.5M547.24,398.5H549.44M547.24,409.5H549.44M583.62,412.4V417.6M582.52,412.4H584.72M582.52,417.6H584.72M588.66,412.1V417.3M587.56,412.1H589.76M587.56,417.3H589.76M608.82,401.3V406.5M607.72,401.3H609.92M607.72,406.5H609.92M623.94,400.9V405.7M622.84,400.9H625.04M622.84,405.7H625.04M634.02,410.7V415.9M632.92,410.7H635.12M632.92,415.9H635.12M649.14,405V411.6M648.04,405H650.24M648.04,411.6H650.24" stroke="#6a6ad8" stroke-width="0.75" fill="none"/>
<clipPath id="cScandinavia"><rect x="542.7" y="367.7" width="126" height="127.6"/></clipPath>
<polygon clip-path="url(#cScandinavia)" points="545.82,417.4 550.86,414.14 555.9,418.09 560.94,423.11 565.98,429.22 571.02,430.68 576.06,430.65 581.1,439.11 586.14,438.49 591.18,437.81 596.22,439.56 601.26,444.13 606.3,448.87 611.34,445.92 616.38,451.03 621.42,455.08 626.46,452 631.5,453.83 636.54,452.88 641.58,459.43 646.62,462.56 651.66,460.55 656.7,464.53 661.74,466.16 666.78,471.2 666.78,476.8 661.74,471.61 656.7,469.85 651.66,465.72 646.62,467.58 641.58,464.29 636.54,457.6 631.5,458.39 626.46,456.39 621.42,459.3 616.38,455.08 611.34,449.79 606.3,452.57 601.26,447.63 596.22,442.87 591.18,440.92 586.14,441.39 581.1,441.78 576.06,433.09 571.02,432.86 565.98,431.13 560.94,424.72 555.9,419.35 550.86,414.97 545.82,417.4" fill="rgba(0,0,0,0.15)" stroke-linejoin="round"/>
<polyline points="545.82,417.4 550.86,414.56 555.9,418.72 560.94,423.92 565.98,430.18 571.02,431.77 576.06,431.87 581.1,440.45 586.14,439.94 591.18,439.37 596.22,441.21 601.26,445.88 606.3,450.72 611.34,447.85 616.38,453.05 621.42,457.19 626.46,454.2 631.5,456.11 636.54,455.24 641.58,461.86 646.62,465.07 651.66,463.13 656.7,467.19 661.74,468.89 666.78,474" fill="none" stroke="#000" stroke-width="1.05" stroke-linejoin="round"/>
<path d="M542.7,387.7V495.3H668.7V387.7M540.5,389.1H542.7M540.5,416.9H542.7M540.5,445.5H542.7M540.5,473.3H542.7M666.5,387.7H668.7M666.5,417.4H668.7M666.5,447.1H668.7M666.5,476.8H668.7M547.74,495.3V496.9M572.94,495.3V496.9M598.14,495.3V496.9M623.34,495.3V496.9M648.54,495.3V496.9" stroke="#6a6a6a" stroke-width="0.85" fill="none"/>
<g fill="#111" stroke="#111" stroke-width="0.12">
<text x="537.5" y="391.9" font-size="7" text-anchor="end" >20</text>
<text x="537.5" y="419.7" font-size="7" text-anchor="end" >0</text>
<text x="537.5" y="448.3" font-size="7" text-anchor="end" >&#8722;20</text>
<text x="537.5" y="476.1" font-size="7" text-anchor="end" >&#8722;40</text>
<text x="671.9" y="390.5" font-size="7" text-anchor="start" >1.5</text>
<text x="671.9" y="420.2" font-size="7" text-anchor="start" >0</text>
<text x="670.7" y="449.9" font-size="7" text-anchor="start" >&#8722;1.5</text>
<text x="670.7" y="479.6" font-size="7" text-anchor="start" >&#8722;3.0</text>
<text x="547.74" y="505.1" font-size="7" text-anchor="middle" >2000</text>
<text x="572.94" y="505.1" font-size="7" text-anchor="middle" >2005</text>
<text x="598.14" y="505.1" font-size="7" text-anchor="middle" >2010</text>
<text x="623.34" y="505.1" font-size="7" text-anchor="middle" >2015</text>
<text x="648.54" y="505.1" font-size="7" text-anchor="middle" >2020</text>
<text x="546.5" y="475.7" font-size="7" text-anchor="start" >&#8722;1.7 &#177; 0.1 Gt yr<tspan font-size="4.6" dy="-4.2">&#8722;1</tspan></text>
<text x="546.5" y="483.1" font-size="7" text-anchor="start" >&#8722;40 &#177; 2 Gt</text>
<text x="546.5" y="491.8" font-size="7" text-anchor="start" >Scandinavia</text>
</g>
<g>
<rect x="30.07" y="543.9" width="5.16" height="3.5" fill="rgba(40,40,190,0.23)"/>
<rect x="35.11" y="547.4" width="5.16" height="6.5" fill="rgba(255,0,0,0.205)"/>
<rect x="40.15" y="547.4" width="5.16" height="1.8" fill="rgba(255,0,0,0.205)"/>
<rect x="45.19" y="547.4" width="5.16" height="3.8" fill="rgba(255,0,0,0.205)"/>
<rect x="50.23" y="547.4" width="5.16" height="8.6" fill="rgba(255,0,0,0.205)"/>
<rect x="55.27" y="547.4" width="5.16" height="7" fill="rgba(255,0,0,0.205)"/>
<rect x="60.31" y="546.3" width="5.16" height="1.1" fill="rgba(40,40,190,0.23)"/>
<rect x="65.35" y="547.4" width="5.16" height="5.4" fill="rgba(255,0,0,0.205)"/>
<rect x="70.39" y="546.4" width="5.16" height="1" fill="rgba(40,40,190,0.23)"/>
<rect x="75.43" y="547.4" width="5.16" height="0.4" fill="rgba(255,0,0,0.205)"/>
<rect x="80.47" y="546.3" width="5.16" height="1.1" fill="rgba(40,40,190,0.23)"/>
<rect x="85.51" y="547.4" width="5.16" height="9" fill="rgba(255,0,0,0.205)"/>
<rect x="90.55" y="547.4" width="5.16" height="3.9" fill="rgba(255,0,0,0.205)"/>
<rect x="95.59" y="547.4" width="5.16" height="9.5" fill="rgba(255,0,0,0.205)"/>
<rect x="100.63" y="546.3" width="5.16" height="1.1" fill="rgba(40,40,190,0.23)"/>
<rect x="105.67" y="547.4" width="5.16" height="8.2" fill="rgba(255,0,0,0.205)"/>
<rect x="110.71" y="547.4" width="5.16" height="14.1" fill="rgba(255,0,0,0.205)"/>
<rect x="115.75" y="547.4" width="5.16" height="3.9" fill="rgba(255,0,0,0.205)"/>
<rect x="120.79" y="547.4" width="5.16" height="8" fill="rgba(255,0,0,0.205)"/>
<rect x="125.83" y="547.4" width="5.16" height="8.1" fill="rgba(255,0,0,0.205)"/>
<rect x="130.87" y="547.4" width="5.16" height="25.6" fill="rgba(255,0,0,0.205)"/>
<rect x="135.91" y="547.4" width="5.16" height="2.9" fill="rgba(255,0,0,0.205)"/>
<rect x="140.95" y="547.4" width="5.16" height="13.6" fill="rgba(255,0,0,0.205)"/>
<rect x="145.99" y="547.4" width="5.16" height="12" fill="rgba(255,0,0,0.205)"/>
</g>
<line x1="26.6" y1="547.4" x2="152.6" y2="547.4" stroke="#9a9a9a" stroke-width="0.8"/>
<path d="M37.69,548.2V559.6M36.59,548.2H38.79M36.59,559.6H38.79M42.73,543.5V554.9M41.63,543.5H43.83M41.63,554.9H43.83M47.77,547.3V555.1M46.67,547.3H48.87M46.67,555.1H48.87M52.81,552.4V559.6M51.71,552.4H53.91M51.71,559.6H53.91M57.85,551.1V557.7M56.75,551.1H58.95M56.75,557.7H58.95M67.93,550.3V555.3M66.83,550.3H69.03M66.83,555.3H69.03M78.01,544.6V551M76.91,544.6H79.11M76.91,551H79.11M88.09,553.2V559.6M86.99,553.2H89.19M86.99,559.6H89.19M93.13,548V554.6M92.03,548H94.23M92.03,554.6H94.23M98.17,553.4V560.4M97.07,553.4H99.27M97.07,560.4H99.27M108.25,552.3V558.9M107.15,552.3H109.35M107.15,558.9H109.35M113.29,558.3V564.7M112.19,558.3H114.39M112.19,564.7H114.39M118.33,548.2V554.4M117.23,548.2H119.43M117.23,554.4H119.43M123.37,552.1V558.7M122.27,552.1H124.47M122.27,558.7H124.47M128.41,552.1V558.9M127.31,552.1H129.51M127.31,558.9H129.51M133.45,569.2V576.8M132.35,569.2H134.55M132.35,576.8H134.55M138.49,546.2V554.4M137.39,546.2H139.59M137.39,554.4H139.59M143.53,556.3V565.7M142.43,556.3H144.63M142.43,565.7H144.63M148.57,552.1V566.7M147.47,552.1H149.67M147.47,566.7H149.67" stroke="#fa6b6b" stroke-width="0.75" fill="none"/>
<path d="M32.65,537.4V550.4M31.55,537.4H33.75M31.55,550.4H33.75M62.89,543V549.6M61.79,543H63.99M61.79,549.6H63.99M72.97,543V549.8M71.87,543H74.07M71.87,549.8H74.07M83.05,542.1V550.5M81.95,542.1H84.15M81.95,550.5H84.15M103.21,543.1V549.5M102.11,543.1H104.31M102.11,549.5H104.31" stroke="#6a6ad8" stroke-width="0.75" fill="none"/>
<clipPath id="cRussianArctic"><rect x="26.6" y="498.2" width="126" height="126.9"/></clipPath>
<polygon clip-path="url(#cRussianArctic)" points="30.13,547.4 35.17,544.95 40.21,546.89 45.25,547.13 50.29,548.2 55.33,551.17 60.37,553.54 65.41,552.8 70.45,554.6 75.49,553.93 80.53,553.82 85.57,553.13 90.61,556.37 95.65,557.64 100.69,561.08 105.73,560.43 110.77,563.38 115.81,568.62 120.85,569.92 125.89,572.81 130.93,575.74 135.97,585.44 141.01,586.37 146.05,591.44 151.09,595.9 151.09,610.7 146.05,605.87 141.01,600.42 135.97,599.1 130.93,589 125.89,585.67 120.85,582.37 115.81,580.65 110.77,574.98 105.73,571.59 100.69,571.79 95.65,567.88 90.61,566.13 85.57,562.4 80.53,562.57 75.49,562.15 70.45,562.25 65.41,559.87 60.37,559.98 55.33,556.94 50.29,553.25 45.25,551.38 40.21,550.23 35.17,547.15 30.13,547.4" fill="rgba(0,0,0,0.15)" stroke-linejoin="round"/>
<polyline points="30.13,547.4 35.17,546.05 40.21,548.56 45.25,549.26 50.29,550.73 55.33,554.05 60.37,556.76 65.41,556.34 70.45,558.43 75.49,558.04 80.53,558.19 85.57,557.77 90.61,561.25 95.65,562.76 100.69,566.43 105.73,566.01 110.77,569.18 115.81,574.63 120.85,576.14 125.89,579.24 130.93,582.37 135.97,592.27 141.01,593.4 146.05,598.66 151.09,603.3" fill="none" stroke="#000" stroke-width="1.05" stroke-linejoin="round"/>
<path d="M26.6,518.2V625.1H152.6V518.2M24.4,518.7H26.6M24.4,547.3H26.6M24.4,576H26.6M24.4,605.1H26.6M150.4,518.2H152.6M150.4,547.4H152.6M150.4,576.6H152.6M150.4,605.8H152.6M31.64,625.1V626.7M56.84,625.1V626.7M82.04,625.1V626.7M107.24,625.1V626.7M132.44,625.1V626.7" stroke="#6a6a6a" stroke-width="0.85" fill="none"/>
<g fill="#111" stroke="#111" stroke-width="0.12">
<text x="21.4" y="521.5" font-size="7" text-anchor="end" >200</text>
<text x="21.4" y="550.1" font-size="7" text-anchor="end" >0</text>
<text x="21.4" y="578.8" font-size="7" text-anchor="end" >&#8722;200</text>
<text x="21.4" y="607.9" font-size="7" text-anchor="end" >&#8722;400</text>
<text x="155.8" y="521" font-size="7" text-anchor="start" >1.5</text>
<text x="155.8" y="550.2" font-size="7" text-anchor="start" >0</text>
<text x="154.6" y="579.4" font-size="7" text-anchor="start" >&#8722;1.5</text>
<text x="154.6" y="608.6" font-size="7" text-anchor="start" >&#8722;3.0</text>
<text x="31.64" y="634.9" font-size="7" text-anchor="middle" >2000</text>
<text x="56.84" y="634.9" font-size="7" text-anchor="middle" >2005</text>
<text x="82.04" y="634.9" font-size="7" text-anchor="middle" >2010</text>
<text x="107.24" y="634.9" font-size="7" text-anchor="middle" >2015</text>
<text x="132.44" y="634.9" font-size="7" text-anchor="middle" >2020</text>
<text x="30.4" y="605.5" font-size="7" text-anchor="start" >&#8722;16.1 &#177; 2.1 Gt yr<tspan font-size="4.6" dy="-4.2">&#8722;1</tspan></text>
<text x="30.4" y="612.9" font-size="7" text-anchor="start" >&#8722;385 &#177; 51 Gt</text>
<text x="30.4" y="621.6" font-size="7" text-anchor="start" >Russian Arctic</text>
</g>
<g>
<rect x="201.72" y="546.9" width="5.16" height="0.5" fill="rgba(40,40,190,0.23)"/>
<rect x="206.76" y="547.4" width="5.16" height="11.4" fill="rgba(255,0,0,0.205)"/>
<rect x="211.8" y="547.4" width="5.16" height="16" fill="rgba(255,0,0,0.205)"/>
<rect x="216.84" y="547.4" width="5.16" height="13.3" fill="rgba(255,0,0,0.205)"/>
<rect x="221.88" y="547.4" width="5.16" height="4.1" fill="rgba(255,0,0,0.205)"/>
<rect x="226.92" y="547.4" width="5.16" height="3.2" fill="rgba(255,0,0,0.205)"/>
<rect x="231.96" y="547.4" width="5.16" height="11.4" fill="rgba(255,0,0,0.205)"/>
<rect x="237" y="547.4" width="5.16" height="12.3" fill="rgba(255,0,0,0.205)"/>
<rect x="242.04" y="547.4" width="5.16" height="16" fill="rgba(255,0,0,0.205)"/>
<rect x="247.08" y="546" width="5.16" height="1.4" fill="rgba(40,40,190,0.23)"/>
<rect x="252.12" y="547.4" width="5.16" height="5.6" fill="rgba(255,0,0,0.205)"/>
<rect x="257.16" y="547.4" width="5.16" height="16.5" fill="rgba(255,0,0,0.205)"/>
<rect x="262.2" y="547.4" width="5.16" height="18.4" fill="rgba(255,0,0,0.205)"/>
<rect x="267.24" y="547.4" width="5.16" height="6.4" fill="rgba(255,0,0,0.205)"/>
<rect x="272.28" y="547.4" width="5.16" height="6.4" fill="rgba(255,0,0,0.205)"/>
<rect x="277.32" y="547.4" width="5.16" height="20.1" fill="rgba(255,0,0,0.205)"/>
<rect x="282.36" y="547.4" width="5.16" height="4.6" fill="rgba(255,0,0,0.205)"/>
<rect x="287.4" y="547.4" width="5.16" height="20" fill="rgba(255,0,0,0.205)"/>
<rect x="292.44" y="547.4" width="5.16" height="13.2" fill="rgba(255,0,0,0.205)"/>
<rect x="297.48" y="547.4" width="5.16" height="7.4" fill="rgba(255,0,0,0.205)"/>
<rect x="302.52" y="547.4" width="5.16" height="10.6" fill="rgba(255,0,0,0.205)"/>
<rect x="307.56" y="547.4" width="5.16" height="8.6" fill="rgba(255,0,0,0.205)"/>
<rect x="312.6" y="547.4" width="5.16" height="19.9" fill="rgba(255,0,0,0.205)"/>
<rect x="317.64" y="547.4" width="5.16" height="17.7" fill="rgba(255,0,0,0.205)"/>
</g>
<line x1="197.5" y1="547.4" x2="323.5" y2="547.4" stroke="#9a9a9a" stroke-width="0.8"/>
<path d="M209.34,554V563.6M208.24,554H210.44M208.24,563.6H210.44M214.38,558.2V568.6M213.28,558.2H215.48M213.28,568.6H215.48M219.42,555.8V565.6M218.32,555.8H220.52M218.32,565.6H220.52M224.46,546.7V556.3M223.36,546.7H225.56M223.36,556.3H225.56M229.5,545.9V555.3M228.4,545.9H230.6M228.4,555.3H230.6M234.54,554.2V563.4M233.44,554.2H235.64M233.44,563.4H235.64M239.58,555.1V564.3M238.48,555.1H240.68M238.48,564.3H240.68M244.62,558.9V567.9M243.52,558.9H245.72M243.52,567.9H245.72M254.7,548.3V557.7M253.6,548.3H255.8M253.6,557.7H255.8M259.74,559.3V568.5M258.64,559.3H260.84M258.64,568.5H260.84M264.78,561.4V570.2M263.68,561.4H265.88M263.68,570.2H265.88M269.82,549.3V558.3M268.72,549.3H270.92M268.72,558.3H270.92M274.86,549.3V558.3M273.76,549.3H275.96M273.76,558.3H275.96M279.9,562.7V572.3M278.8,562.7H281M278.8,572.3H281M284.94,547.5V556.5M283.84,547.5H286.04M283.84,556.5H286.04M289.98,562.5V572.3M288.88,562.5H291.08M288.88,572.3H291.08M295.02,555.9V565.3M293.92,555.9H296.12M293.92,565.3H296.12M300.06,550.3V559.3M298.96,550.3H301.16M298.96,559.3H301.16M305.1,552.6V563.4M304,552.6H306.2M304,563.4H306.2M310.14,550.6V561.4M309.04,550.6H311.24M309.04,561.4H311.24M315.18,558.3V576.3M314.08,558.3H316.28M314.08,576.3H316.28M320.22,555.9V574.3M319.12,555.9H321.32M319.12,574.3H321.32" stroke="#fa6b6b" stroke-width="0.75" fill="none"/>
<path d="M204.3,538.3V555.5M203.2,538.3H205.4M203.2,555.5H205.4M249.66,541.4V550.6M248.56,541.4H250.76M248.56,550.6H250.76" stroke="#6a6ad8" stroke-width="0.75" fill="none"/>
<clipPath id="cNorthAsia"><rect x="197.5" y="498.2" width="126" height="126.9"/></clipPath>
<polygon clip-path="url(#cNorthAsia)" points="201.78,547.4 206.82,546.5 211.86,548.56 216.9,551.68 221.94,554.26 226.98,554.88 232.02,555.33 237.06,557.57 242.1,560.01 247.14,563.25 252.18,562.76 257.22,563.78 262.26,567.16 267.3,570.95 272.34,572.17 277.38,573.38 282.42,577.56 287.46,578.4 292.5,582.56 297.54,585.26 302.58,586.71 307.62,588.85 312.66,590.57 317.7,594.72 322.74,598.4 322.74,609 317.7,605.05 312.66,600.63 307.62,598.63 302.58,596.21 297.54,594.47 292.5,591.48 287.46,587.02 282.42,585.87 277.38,581.38 272.34,579.84 267.3,578.29 262.26,574.15 257.22,570.42 252.18,569.03 247.14,569.14 242.1,565.49 237.06,562.63 232.02,559.95 226.98,559.02 221.94,557.87 216.9,554.72 211.86,550.94 206.82,548.08 201.78,547.4" fill="rgba(0,0,0,0.15)" stroke-linejoin="round"/>
<polyline points="201.78,547.4 206.82,547.29 211.86,549.75 216.9,553.2 221.94,556.06 226.98,556.95 232.02,557.64 237.06,560.1 242.1,562.75 247.14,566.2 252.18,565.89 257.22,567.1 262.26,570.66 267.3,574.62 272.34,576 277.38,577.38 282.42,581.71 287.46,582.71 292.5,587.02 297.54,589.86 302.58,591.46 307.62,593.74 312.66,595.6 317.7,599.88 322.74,603.7" fill="none" stroke="#000" stroke-width="1.05" stroke-linejoin="round"/>
<path d="M197.5,518.2V625.1H323.5V518.2M195.3,546.9H197.5M195.3,582.2H197.5M195.3,617.5H197.5M321.3,518.2H323.5M321.3,547.4H323.5M321.3,576.6H323.5M321.3,605.8H323.5M202.54,625.1V626.7M227.74,625.1V626.7M252.94,625.1V626.7M278.14,625.1V626.7M303.34,625.1V626.7" stroke="#6a6a6a" stroke-width="0.85" fill="none"/>
<g fill="#111" stroke="#111" stroke-width="0.12">
<text x="192.3" y="549.7" font-size="7" text-anchor="end" >0</text>
<text x="192.3" y="585" font-size="7" text-anchor="end" >&#8722;20</text>
<text x="192.3" y="620.3" font-size="7" text-anchor="end" >&#8722;40</text>
<text x="326.7" y="521" font-size="7" text-anchor="start" >1.5</text>
<text x="326.7" y="550.2" font-size="7" text-anchor="start" >0</text>
<text x="325.5" y="579.4" font-size="7" text-anchor="start" >&#8722;1.5</text>
<text x="325.5" y="608.6" font-size="7" text-anchor="start" >&#8722;3.0</text>
<text x="202.54" y="634.9" font-size="7" text-anchor="middle" >2000</text>
<text x="227.74" y="634.9" font-size="7" text-anchor="middle" >2005</text>
<text x="252.94" y="634.9" font-size="7" text-anchor="middle" >2010</text>
<text x="278.14" y="634.9" font-size="7" text-anchor="middle" >2015</text>
<text x="303.34" y="634.9" font-size="7" text-anchor="middle" >2020</text>
<text x="201.3" y="605.5" font-size="7" text-anchor="start" >&#8722;1.3 &#177; 0.1 Gt yr<tspan font-size="4.6" dy="-4.2">&#8722;1</tspan></text>
<text x="201.3" y="612.9" font-size="7" text-anchor="start" >&#8722;32 &#177; 3 Gt</text>
<text x="201.3" y="621.6" font-size="7" text-anchor="start" >North Asia</text>
</g>
<g>
<rect x="374.07" y="547.4" width="5.16" height="8.7" fill="rgba(255,0,0,0.205)"/>
<rect x="379.11" y="539.4" width="5.16" height="8" fill="rgba(40,40,190,0.23)"/>
<rect x="384.15" y="547.4" width="5.16" height="8.6" fill="rgba(255,0,0,0.205)"/>
<rect x="389.19" y="547.4" width="5.16" height="37.3" fill="rgba(255,0,0,0.205)"/>
<rect x="394.23" y="547.4" width="5.16" height="11.9" fill="rgba(255,0,0,0.205)"/>
<rect x="399.27" y="547.4" width="5.16" height="18.9" fill="rgba(255,0,0,0.205)"/>
<rect x="404.31" y="547.4" width="5.16" height="21.6" fill="rgba(255,0,0,0.205)"/>
<rect x="409.35" y="547.4" width="5.16" height="17" fill="rgba(255,0,0,0.205)"/>
<rect x="414.39" y="547.4" width="5.16" height="16.1" fill="rgba(255,0,0,0.205)"/>
<rect x="419.43" y="547.4" width="5.16" height="14.1" fill="rgba(255,0,0,0.205)"/>
<rect x="424.47" y="547.4" width="5.16" height="8.3" fill="rgba(255,0,0,0.205)"/>
<rect x="429.51" y="547.4" width="5.16" height="26.5" fill="rgba(255,0,0,0.205)"/>
<rect x="434.55" y="547.4" width="5.16" height="29.6" fill="rgba(255,0,0,0.205)"/>
<rect x="439.59" y="547.4" width="5.16" height="5.3" fill="rgba(255,0,0,0.205)"/>
<rect x="444.63" y="547.4" width="5.16" height="3.4" fill="rgba(255,0,0,0.205)"/>
<rect x="449.67" y="547.4" width="5.16" height="31.6" fill="rgba(255,0,0,0.205)"/>
<rect x="454.71" y="547.4" width="5.16" height="13.3" fill="rgba(255,0,0,0.205)"/>
<rect x="459.75" y="547.4" width="5.16" height="30.2" fill="rgba(255,0,0,0.205)"/>
<rect x="464.79" y="547.4" width="5.16" height="27.3" fill="rgba(255,0,0,0.205)"/>
<rect x="469.83" y="547.4" width="5.16" height="19.3" fill="rgba(255,0,0,0.205)"/>
<rect x="474.87" y="547.4" width="5.16" height="14.6" fill="rgba(255,0,0,0.205)"/>
<rect x="479.91" y="547.4" width="5.16" height="11.8" fill="rgba(255,0,0,0.205)"/>
<rect x="484.95" y="547.4" width="5.16" height="72.8" fill="rgba(255,0,0,0.205)"/>
<rect x="489.99" y="547.4" width="5.16" height="51.9" fill="rgba(255,0,0,0.205)"/>
</g>
<line x1="370.6" y1="547.4" x2="496.6" y2="547.4" stroke="#9a9a9a" stroke-width="0.8"/>
<path d="M376.65,550.7V561.5M375.55,550.7H377.75M375.55,561.5H377.75M386.73,552.4V559.6M385.63,552.4H387.83M385.63,559.6H387.83M391.77,581.3V588.1M390.67,581.3H392.87M390.67,588.1H392.87M396.81,556.1V562.5M395.71,556.1H397.91M395.71,562.5H397.91M401.85,563V569.6M400.75,563H402.95M400.75,569.6H402.95M406.89,565.6V572.4M405.79,565.6H407.99M405.79,572.4H407.99M411.93,561.1V567.7M410.83,561.1H413.03M410.83,567.7H413.03M416.97,560.3V566.7M415.87,560.3H418.07M415.87,566.7H418.07M422.01,558.2V564.8M420.91,558.2H423.11M420.91,564.8H423.11M427.05,552.5V558.9M425.95,552.5H428.15M425.95,558.9H428.15M432.09,570.6V577.2M430.99,570.6H433.19M430.99,577.2H433.19M437.13,573.4V580.6M436.03,573.4H438.23M436.03,580.6H438.23M442.17,549.1V556.3M441.07,549.1H443.27M441.07,556.3H443.27M447.21,547.2V554.4M446.11,547.2H448.31M446.11,554.4H448.31M452.25,575.4V582.6M451.15,575.4H453.35M451.15,582.6H453.35M457.29,557.1V564.3M456.19,557.1H458.39M456.19,564.3H458.39M462.33,574.1V581.1M461.23,574.1H463.43M461.23,581.1H463.43M467.37,571.1V578.3M466.27,571.1H468.47M466.27,578.3H468.47M472.41,563.1V570.3M471.31,563.1H473.51M471.31,570.3H473.51M477.45,558.1V565.9M476.35,558.1H478.55M476.35,565.9H478.55M482.49,555.1V563.3M481.39,555.1H483.59M481.39,563.3H483.59M487.53,614.2V626.2M486.43,614.2H488.63M486.43,626.2H488.63M492.57,593V605.6M491.47,593H493.67M491.47,605.6H493.67" stroke="#fa6b6b" stroke-width="0.75" fill="none"/>
<path d="M381.69,536.3V542.5M380.59,536.3H382.79M380.59,542.5H382.79" stroke="#6a6ad8" stroke-width="0.75" fill="none"/>
<clipPath id="cCentralEurope"><rect x="370.6" y="498.2" width="126" height="126.9"/></clipPath>
<polygon clip-path="url(#cCentralEurope)" points="374.13,547.4 379.17,548.04 384.21,546.94 389.25,547.78 394.29,551.92 399.33,553.17 404.37,555.23 409.41,557.6 414.45,559.45 419.49,561.21 424.53,562.74 429.57,563.6 434.61,566.56 439.65,569.88 444.69,570.41 449.73,570.72 454.77,574.27 459.81,575.73 464.85,579.12 469.89,582.18 474.93,584.33 479.97,585.94 485.01,587.23 490.05,595.51 495.09,601.4 495.09,606.2 490.05,600.19 485.01,591.79 479.97,590.37 474.93,588.63 469.89,586.36 464.85,583.16 459.81,579.63 454.77,578.04 449.73,574.34 444.69,573.88 439.65,573.2 434.61,569.73 429.57,566.61 424.53,565.58 419.49,563.87 414.45,561.94 409.41,559.89 404.37,557.32 399.33,555.04 394.29,553.56 389.25,549.16 384.21,548.02 379.17,548.75 374.13,547.4" fill="rgba(0,0,0,0.15)" stroke-linejoin="round"/>
<polyline points="374.13,547.4 379.17,548.4 384.21,547.48 389.25,548.47 394.29,552.74 399.33,554.1 404.37,556.27 409.41,558.75 414.45,560.69 419.49,562.54 424.53,564.16 429.57,565.11 434.61,568.14 439.65,571.54 444.69,572.14 449.73,572.53 454.77,576.16 459.81,577.68 464.85,581.14 469.89,584.27 474.93,586.48 479.97,588.16 485.01,589.51 490.05,597.85 495.09,603.8" fill="none" stroke="#000" stroke-width="1.05" stroke-linejoin="round"/>
<path d="M370.6,518.2V625.1H496.6V518.2M368.4,546.9H370.6M368.4,576.5H370.6M368.4,606.2H370.6M494.4,518.2H496.6M494.4,547.4H496.6M494.4,576.6H496.6M494.4,605.8H496.6M375.64,625.1V626.7M400.84,625.1V626.7M426.04,625.1V626.7M451.24,625.1V626.7M476.44,625.1V626.7" stroke="#6a6a6a" stroke-width="0.85" fill="none"/>
<g fill="#111" stroke="#111" stroke-width="0.12">
<text x="365.4" y="549.7" font-size="7" text-anchor="end" >0</text>
<text x="365.4" y="579.3" font-size="7" text-anchor="end" >&#8722;25</text>
<text x="365.4" y="609" font-size="7" text-anchor="end" >&#8722;50</text>
<text x="499.8" y="521" font-size="7" text-anchor="start" >1.5</text>
<text x="499.8" y="550.2" font-size="7" text-anchor="start" >0</text>
<text x="498.6" y="579.4" font-size="7" text-anchor="start" >&#8722;1.5</text>
<text x="498.6" y="608.6" font-size="7" text-anchor="start" >&#8722;3.0</text>
<text x="375.64" y="634.9" font-size="7" text-anchor="middle" >2000</text>
<text x="400.84" y="634.9" font-size="7" text-anchor="middle" >2005</text>
<text x="426.04" y="634.9" font-size="7" text-anchor="middle" >2010</text>
<text x="451.24" y="634.9" font-size="7" text-anchor="middle" >2015</text>
<text x="476.44" y="634.9" font-size="7" text-anchor="middle" >2020</text>
<text x="374.4" y="605.5" font-size="7" text-anchor="start" >&#8722;2.0 &#177; 0.1 Gt yr<tspan font-size="4.6" dy="-4.2">&#8722;1</tspan></text>
<text x="374.4" y="612.9" font-size="7" text-anchor="start" >&#8722;47 &#177; 2 Gt</text>
<text x="374.4" y="621.6" font-size="7" text-anchor="start" >Central Europe</text>
</g>
<g>
<rect x="545.76" y="547.4" width="5.16" height="24.4" fill="rgba(255,0,0,0.205)"/>
<rect x="550.8" y="547.4" width="5.16" height="13.7" fill="rgba(255,0,0,0.205)"/>
<rect x="555.84" y="540.7" width="5.16" height="6.7" fill="rgba(40,40,190,0.23)"/>
<rect x="560.88" y="543" width="5.16" height="4.4" fill="rgba(40,40,190,0.23)"/>
<rect x="565.92" y="537.1" width="5.16" height="10.3" fill="rgba(40,40,190,0.23)"/>
<rect x="570.96" y="540.5" width="5.16" height="6.9" fill="rgba(40,40,190,0.23)"/>
<rect x="576" y="547.4" width="5.16" height="14.7" fill="rgba(255,0,0,0.205)"/>
<rect x="581.04" y="547.4" width="5.16" height="28" fill="rgba(255,0,0,0.205)"/>
<rect x="586.08" y="547.4" width="5.16" height="8.2" fill="rgba(255,0,0,0.205)"/>
<rect x="591.12" y="547.4" width="5.16" height="5.5" fill="rgba(255,0,0,0.205)"/>
<rect x="596.16" y="547.4" width="5.16" height="16.3" fill="rgba(255,0,0,0.205)"/>
<rect x="601.2" y="547.4" width="5.16" height="13" fill="rgba(255,0,0,0.205)"/>
<rect x="606.24" y="547.4" width="5.16" height="25.4" fill="rgba(255,0,0,0.205)"/>
<rect x="611.28" y="547.4" width="5.16" height="5.2" fill="rgba(255,0,0,0.205)"/>
<rect x="616.32" y="547.4" width="5.16" height="22.1" fill="rgba(255,0,0,0.205)"/>
<rect x="621.36" y="547.4" width="5.16" height="21.9" fill="rgba(255,0,0,0.205)"/>
<rect x="626.4" y="547.4" width="5.16" height="18.3" fill="rgba(255,0,0,0.205)"/>
<rect x="631.44" y="547.4" width="5.16" height="17.6" fill="rgba(255,0,0,0.205)"/>
<rect x="636.48" y="547.4" width="5.16" height="7" fill="rgba(255,0,0,0.205)"/>
<rect x="641.52" y="547.4" width="5.16" height="15.6" fill="rgba(255,0,0,0.205)"/>
<rect x="646.56" y="547.4" width="5.16" height="30" fill="rgba(255,0,0,0.205)"/>
<rect x="651.6" y="547.4" width="5.16" height="4.5" fill="rgba(255,0,0,0.205)"/>
<rect x="656.64" y="547.4" width="5.16" height="17.5" fill="rgba(255,0,0,0.205)"/>
<rect x="661.68" y="547.4" width="5.16" height="9.6" fill="rgba(255,0,0,0.205)"/>
</g>
<line x1="542.7" y1="547.4" x2="668.7" y2="547.4" stroke="#9a9a9a" stroke-width="0.8"/>
<path d="M548.34,564.1V579.5M547.24,564.1H549.44M547.24,579.5H549.44M553.38,557.6V564.6M552.28,557.6H554.48M552.28,564.6H554.48M578.58,558.6V565.6M577.48,558.6H579.68M577.48,565.6H579.68M583.62,571.3V579.5M582.52,571.3H584.72M582.52,579.5H584.72M588.66,552.3V558.9M587.56,552.3H589.76M587.56,558.9H589.76M593.7,549.5V556.3M592.6,549.5H594.8M592.6,556.3H594.8M598.74,560.2V567.2M597.64,560.2H599.84M597.64,567.2H599.84M603.78,557.3V563.5M602.68,557.3H604.88M602.68,563.5H604.88M608.82,569.2V576.4M607.72,569.2H609.92M607.72,576.4H609.92M613.86,549.3V555.9M612.76,549.3H614.96M612.76,555.9H614.96M618.9,566.1V572.9M617.8,566.1H620M617.8,572.9H620M623.94,565.4V573.2M622.84,565.4H625.04M622.84,573.2H625.04M628.98,561.8V569.6M627.88,561.8H630.08M627.88,569.6H630.08M634.02,561.3V568.7M632.92,561.3H635.12M632.92,568.7H635.12M639.06,550.3V558.5M637.96,550.3H640.16M637.96,558.5H640.16M644.1,559.3V566.7M643,559.3H645.2M643,566.7H645.2M649.14,573.3V581.5M648.04,573.3H650.24M648.04,581.5H650.24M654.18,548.1V555.7M653.08,548.1H655.28M653.08,555.7H655.28M659.22,558.3V571.5M658.12,558.3H660.32M658.12,571.5H660.32M664.26,550.4V563.6M663.16,550.4H665.36M663.16,563.6H665.36" stroke="#fa6b6b" stroke-width="0.75" fill="none"/>
<path d="M558.42,537V544.4M557.32,537H559.52M557.32,544.4H559.52M563.46,539.4V546.6M562.36,539.4H564.56M562.36,546.6H564.56M568.5,533.9V540.3M567.4,533.9H569.6M567.4,540.3H569.6M573.54,537.2V543.8M572.44,537.2H574.64M572.44,543.8H574.64" stroke="#6a6ad8" stroke-width="0.75" fill="none"/>
<clipPath id="cCaucasus"><rect x="542.7" y="498.2" width="126" height="126.9"/></clipPath>
<polygon clip-path="url(#cCaucasus)" points="545.82,547.4 550.86,551.64 555.9,554.04 560.94,552.56 565.98,551.54 571.02,549.41 576.06,547.94 581.1,550.64 586.14,555.91 591.18,557.37 596.22,558.32 601.26,561.35 606.3,563.75 611.34,568.54 616.38,569.45 621.42,573.61 626.46,577.74 631.5,581.17 636.54,584.47 641.58,585.73 646.62,588.66 651.66,594.35 656.7,595.14 661.74,598.43 666.78,600.2 666.78,606.4 661.74,604.47 656.7,601.02 651.66,600.07 646.62,594.21 641.58,591.12 636.54,589.69 631.5,586.21 626.46,582.6 621.42,578.29 616.38,573.93 611.34,572.83 606.3,567.84 601.26,565.23 596.22,561.99 591.18,560.81 586.14,559.12 581.1,553.6 576.06,550.64 571.02,551.83 565.98,553.66 560.94,554.34 555.9,555.44 550.86,552.56 545.82,547.4" fill="rgba(0,0,0,0.15)" stroke-linejoin="round"/>
<polyline points="545.82,547.4 550.86,552.1 555.9,554.74 560.94,553.45 565.98,552.6 571.02,550.62 576.06,549.29 581.1,552.12 586.14,557.51 591.18,559.09 596.22,560.15 601.26,563.29 606.3,565.8 611.34,570.69 616.38,571.69 621.42,575.95 626.46,580.17 631.5,583.69 636.54,587.08 641.58,588.43 646.62,591.43 651.66,597.21 656.7,598.08 661.74,601.45 666.78,603.3" fill="none" stroke="#000" stroke-width="1.05" stroke-linejoin="round"/>
<path d="M542.7,518.2V625.1H668.7V518.2M540.5,546.9H542.7M540.5,578.2H542.7M540.5,609.7H542.7M666.5,518.2H668.7M666.5,547.4H668.7M666.5,576.6H668.7M666.5,605.8H668.7M547.74,625.1V626.7M572.94,625.1V626.7M598.14,625.1V626.7M623.34,625.1V626.7M648.54,625.1V626.7" stroke="#6a6a6a" stroke-width="0.85" fill="none"/>
<g fill="#111" stroke="#111" stroke-width="0.12">
<text x="537.5" y="549.7" font-size="7" text-anchor="end" >0</text>
<text x="537.5" y="581" font-size="7" text-anchor="end" >&#8722;10</text>
<text x="537.5" y="612.5" font-size="7" text-anchor="end" >&#8722;20</text>
<text x="671.9" y="521" font-size="7" text-anchor="start" >1.5</text>
<text x="671.9" y="550.2" font-size="7" text-anchor="start" >0</text>
<text x="670.7" y="579.4" font-size="7" text-anchor="start" >&#8722;1.5</text>
<text x="670.7" y="608.6" font-size="7" text-anchor="start" >&#8722;3.0</text>
<text x="547.74" y="634.9" font-size="7" text-anchor="middle" >2000</text>
<text x="572.94" y="634.9" font-size="7" text-anchor="middle" >2005</text>
<text x="598.14" y="634.9" font-size="7" text-anchor="middle" >2010</text>
<text x="623.34" y="634.9" font-size="7" text-anchor="middle" >2015</text>
<text x="648.54" y="634.9" font-size="7" text-anchor="middle" >2020</text>
<text x="546.5" y="605.5" font-size="7" text-anchor="start" >&#8722;0.7 &#177; 0.1 Gt yr<tspan font-size="4.6" dy="-4.2">&#8722;1</tspan></text>
<text x="546.5" y="612.9" font-size="7" text-anchor="start" >&#8722;18 &#177; 1 Gt</text>
<text x="546.5" y="621.6" font-size="7" text-anchor="start" >Caucasus and Middle East</text>
</g>
<g>
<rect x="30.07" y="675" width="5.16" height="2.9" fill="rgba(40,40,190,0.23)"/>
<rect x="35.11" y="677.9" width="5.16" height="6" fill="rgba(255,0,0,0.205)"/>
<rect x="40.15" y="677.9" width="5.16" height="3.4" fill="rgba(255,0,0,0.205)"/>
<rect x="45.19" y="673.2" width="5.16" height="4.7" fill="rgba(40,40,190,0.23)"/>
<rect x="50.23" y="677.8" width="5.16" height="0.1" fill="rgba(40,40,190,0.23)"/>
<rect x="55.27" y="676.6" width="5.16" height="1.3" fill="rgba(40,40,190,0.23)"/>
<rect x="60.31" y="677.9" width="5.16" height="9.8" fill="rgba(255,0,0,0.205)"/>
<rect x="65.35" y="677.9" width="5.16" height="6.3" fill="rgba(255,0,0,0.205)"/>
<rect x="70.39" y="677.9" width="5.16" height="12.4" fill="rgba(255,0,0,0.205)"/>
<rect x="75.43" y="670.4" width="5.16" height="7.5" fill="rgba(40,40,190,0.23)"/>
<rect x="80.47" y="677.9" width="5.16" height="2.7" fill="rgba(255,0,0,0.205)"/>
<rect x="85.51" y="677.4" width="5.16" height="0.5" fill="rgba(40,40,190,0.23)"/>
<rect x="90.55" y="677.9" width="5.16" height="3.6" fill="rgba(255,0,0,0.205)"/>
<rect x="95.59" y="677.9" width="5.16" height="5.5" fill="rgba(255,0,0,0.205)"/>
<rect x="100.63" y="677.9" width="5.16" height="1.1" fill="rgba(255,0,0,0.205)"/>
<rect x="105.67" y="677.9" width="5.16" height="7.7" fill="rgba(255,0,0,0.205)"/>
<rect x="110.71" y="677.9" width="5.16" height="4.4" fill="rgba(255,0,0,0.205)"/>
<rect x="115.75" y="677.4" width="5.16" height="0.5" fill="rgba(40,40,190,0.23)"/>
<rect x="120.79" y="677.9" width="5.16" height="12.3" fill="rgba(255,0,0,0.205)"/>
<rect x="125.83" y="677.9" width="5.16" height="7.6" fill="rgba(255,0,0,0.205)"/>
<rect x="130.87" y="675.2" width="5.16" height="2.7" fill="rgba(40,40,190,0.23)"/>
<rect x="135.91" y="677.9" width="5.16" height="8.7" fill="rgba(255,0,0,0.205)"/>
<rect x="140.95" y="677.9" width="5.16" height="15.1" fill="rgba(255,0,0,0.205)"/>
<rect x="145.99" y="677.9" width="5.16" height="15.9" fill="rgba(255,0,0,0.205)"/>
</g>
<line x1="26.6" y1="677.9" x2="152.6" y2="677.9" stroke="#9a9a9a" stroke-width="0.8"/>
<path d="M37.69,678.4V689.4M36.59,678.4H38.79M36.59,689.4H38.79M42.73,676.1V686.5M41.63,676.1H43.83M41.63,686.5H43.83M62.89,682.7V692.7M61.79,682.7H63.99M61.79,692.7H63.99M67.93,679V689.4M66.83,679H69.03M66.83,689.4H69.03M72.97,685.1V695.5M71.87,685.1H74.07M71.87,695.5H74.07M83.05,675.4V685.8M81.95,675.4H84.15M81.95,685.8H84.15M93.13,676.4V686.6M92.03,676.4H94.23M92.03,686.6H94.23M98.17,678.2V688.6M97.07,678.2H99.27M97.07,688.6H99.27M103.21,674.2V683.8M102.11,674.2H104.31M102.11,683.8H104.31M108.25,680.4V690.8M107.15,680.4H109.35M107.15,690.8H109.35M113.29,677.1V687.5M112.19,677.1H114.39M112.19,687.5H114.39M123.37,684.9V695.5M122.27,684.9H124.47M122.27,695.5H124.47M128.41,680.2V690.8M127.31,680.2H129.51M127.31,690.8H129.51M138.49,679.7V693.5M137.39,679.7H139.59M137.39,693.5H139.59M143.53,685.2V700.8M142.43,685.2H144.63M142.43,700.8H144.63M148.57,686V701.6M147.47,686H149.67M147.47,701.6H149.67" stroke="#fa6b6b" stroke-width="0.75" fill="none"/>
<path d="M32.65,669.4V680.6M31.55,669.4H33.75M31.55,680.6H33.75M47.77,668V678.4M46.67,668H48.87M46.67,678.4H48.87M52.81,672.9V682.7M51.71,672.9H53.91M51.71,682.7H53.91M57.85,671.4V681.8M56.75,671.4H58.95M56.75,681.8H58.95M78.01,665.2V675.6M76.91,665.2H79.11M76.91,675.6H79.11M88.09,672.1V682.7M86.99,672.1H89.19M86.99,682.7H89.19M118.33,672.1V682.7M117.23,672.1H119.43M117.23,682.7H119.43M133.45,669.9V680.5M132.35,669.9H134.55M132.35,680.5H134.55" stroke="#6a6ad8" stroke-width="0.75" fill="none"/>
<clipPath id="cCentralAsia"><rect x="26.6" y="628.2" width="126" height="128.1"/></clipPath>
<polygon clip-path="url(#cCentralAsia)" points="30.13,677.9 35.17,672.83 40.21,674.87 45.25,675.8 50.29,672.42 55.33,671.68 60.37,670.35 65.41,675.19 70.45,678.15 75.49,684.51 80.53,679.92 85.57,680.98 90.61,680.3 95.65,681.89 100.69,684.55 105.73,684.8 110.77,688.7 115.81,690.79 120.85,690.19 125.89,696.66 130.93,700.54 135.97,698.76 141.01,703.27 146.05,711.31 151.09,719.8 151.09,748.8 146.05,739.76 141.01,731.15 135.97,726.07 130.93,727.26 125.89,722.76 120.85,715.67 115.81,715.62 110.77,712.86 105.73,708.27 100.69,707.31 95.65,703.9 90.61,701.53 85.57,701.39 80.53,699.48 75.49,703.16 70.45,695.84 65.41,691.85 60.37,685.89 55.33,686 50.29,685.37 45.25,687.17 40.21,684.35 35.17,679.77 30.13,677.9" fill="rgba(0,0,0,0.15)" stroke-linejoin="round"/>
<polyline points="30.13,677.9 35.17,676.3 40.21,679.61 45.25,681.48 50.29,678.89 55.33,678.84 60.37,678.12 65.41,683.52 70.45,687 75.49,693.83 80.53,689.7 85.57,691.19 90.61,690.91 95.65,692.9 100.69,695.93 105.73,696.53 110.77,700.78 115.81,703.21 120.85,702.93 125.89,709.71 130.93,713.9 135.97,712.41 141.01,717.21 146.05,725.53 151.09,734.3" fill="none" stroke="#000" stroke-width="1.05" stroke-linejoin="round"/>
<path d="M26.6,648.2V756.3H152.6V648.2M24.4,678.1H26.6M24.4,711.5H26.6M24.4,745H26.6M150.4,648.2H152.6M150.4,677.9H152.6M150.4,707.6H152.6M150.4,737.3H152.6M31.64,756.3V757.9M56.84,756.3V757.9M82.04,756.3V757.9M107.24,756.3V757.9M132.44,756.3V757.9" stroke="#6a6a6a" stroke-width="0.85" fill="none"/>
<g fill="#111" stroke="#111" stroke-width="0.12">
<text x="21.4" y="680.9" font-size="7" text-anchor="end" >0</text>
<text x="21.4" y="714.3" font-size="7" text-anchor="end" >&#8722;150</text>
<text x="21.4" y="747.8" font-size="7" text-anchor="end" >&#8722;300</text>
<text x="155.8" y="651" font-size="7" text-anchor="start" >1.5</text>
<text x="155.8" y="680.7" font-size="7" text-anchor="start" >0</text>
<text x="154.6" y="710.4" font-size="7" text-anchor="start" >&#8722;1.5</text>
<text x="154.6" y="740.1" font-size="7" text-anchor="start" >&#8722;3.0</text>
<text x="31.64" y="766.1" font-size="7" text-anchor="middle" >2000</text>
<text x="56.84" y="766.1" font-size="7" text-anchor="middle" >2005</text>
<text x="82.04" y="766.1" font-size="7" text-anchor="middle" >2010</text>
<text x="107.24" y="766.1" font-size="7" text-anchor="middle" >2015</text>
<text x="132.44" y="766.1" font-size="7" text-anchor="middle" >2020</text>
<text x="30.4" y="736.7" font-size="7" text-anchor="start" >&#8722;10.4 &#177; 2.7 Gt yr<tspan font-size="4.6" dy="-4.2">&#8722;1</tspan></text>
<text x="30.4" y="744.1" font-size="7" text-anchor="start" >&#8722;250 &#177; 65 Gt</text>
<text x="30.4" y="752.8" font-size="7" text-anchor="start" >Central Asia</text>
</g>
<g>
<rect x="201.72" y="672.3" width="5.16" height="5.6" fill="rgba(40,40,190,0.23)"/>
<rect x="206.76" y="677.9" width="5.16" height="3.5" fill="rgba(255,0,0,0.205)"/>
<rect x="211.8" y="677.5" width="5.16" height="0.4" fill="rgba(40,40,190,0.23)"/>
<rect x="216.84" y="677.9" width="5.16" height="8.8" fill="rgba(255,0,0,0.205)"/>
<rect x="221.88" y="677.9" width="5.16" height="8.3" fill="rgba(255,0,0,0.205)"/>
<rect x="226.92" y="671.5" width="5.16" height="6.4" fill="rgba(40,40,190,0.23)"/>
<rect x="231.96" y="677.9" width="5.16" height="15.3" fill="rgba(255,0,0,0.205)"/>
<rect x="237" y="677.9" width="5.16" height="10.6" fill="rgba(255,0,0,0.205)"/>
<rect x="242.04" y="677.9" width="5.16" height="13.5" fill="rgba(255,0,0,0.205)"/>
<rect x="247.08" y="668.4" width="5.16" height="9.5" fill="rgba(40,40,190,0.23)"/>
<rect x="252.12" y="671.3" width="5.16" height="6.6" fill="rgba(40,40,190,0.23)"/>
<rect x="257.16" y="675.3" width="5.16" height="2.6" fill="rgba(40,40,190,0.23)"/>
<rect x="262.2" y="677.9" width="5.16" height="2.9" fill="rgba(255,0,0,0.205)"/>
<rect x="267.24" y="677.9" width="5.16" height="8.3" fill="rgba(255,0,0,0.205)"/>
<rect x="272.28" y="677.9" width="5.16" height="1.1" fill="rgba(255,0,0,0.205)"/>
<rect x="277.32" y="677.9" width="5.16" height="0.7" fill="rgba(255,0,0,0.205)"/>
<rect x="282.36" y="677.9" width="5.16" height="7.4" fill="rgba(255,0,0,0.205)"/>
<rect x="287.4" y="677.9" width="5.16" height="1.5" fill="rgba(255,0,0,0.205)"/>
<rect x="292.44" y="677.9" width="5.16" height="3.2" fill="rgba(255,0,0,0.205)"/>
<rect x="297.48" y="675.6" width="5.16" height="2.3" fill="rgba(40,40,190,0.23)"/>
<rect x="302.52" y="672.2" width="5.16" height="5.7" fill="rgba(40,40,190,0.23)"/>
<rect x="307.56" y="677.9" width="5.16" height="7.3" fill="rgba(255,0,0,0.205)"/>
<rect x="312.6" y="677.9" width="5.16" height="19.5" fill="rgba(255,0,0,0.205)"/>
<rect x="317.64" y="677.9" width="5.16" height="7.1" fill="rgba(255,0,0,0.205)"/>
</g>
<line x1="197.5" y1="677.9" x2="323.5" y2="677.9" stroke="#9a9a9a" stroke-width="0.8"/>
<path d="M209.34,677V685.8M208.24,677H210.44M208.24,685.8H210.44M219.42,681.7V691.7M218.32,681.7H220.52M218.32,691.7H220.52M224.46,682.2V690.2M223.36,682.2H225.56M223.36,690.2H225.56M234.54,688.5V697.9M233.44,688.5H235.64M233.44,697.9H235.64M239.58,684.6V692.4M238.48,684.6H240.68M238.48,692.4H240.68M244.62,687.5V695.3M243.52,687.5H245.72M243.52,695.3H245.72M264.78,677.1V684.5M263.68,677.1H265.88M263.68,684.5H265.88M269.82,681.9V690.5M268.72,681.9H270.92M268.72,690.5H270.92M274.86,675.3V682.7M273.76,675.3H275.96M273.76,682.7H275.96M279.9,674.6V682.6M278.8,674.6H281M278.8,682.6H281M284.94,681.3V689.3M283.84,681.3H286.04M283.84,689.3H286.04M289.98,675.3V683.5M288.88,675.3H291.08M288.88,683.5H291.08M295.02,677.2V685M293.92,677.2H296.12M293.92,685H296.12M310.14,678.8V691.6M309.04,678.8H311.24M309.04,691.6H311.24M315.18,689.4V705.4M314.08,689.4H316.28M314.08,705.4H316.28M320.22,677.2V692.8M319.12,677.2H321.32M319.12,692.8H321.32" stroke="#fa6b6b" stroke-width="0.75" fill="none"/>
<path d="M204.3,667.1V677.5M203.2,667.1H205.4M203.2,677.5H205.4M214.38,673.2V681.8M213.28,673.2H215.48M213.28,681.8H215.48M229.5,667.5V675.5M228.4,667.5H230.6M228.4,675.5H230.6M249.66,664.2V672.6M248.56,664.2H250.76M248.56,672.6H250.76M254.7,667V675.6M253.6,667H255.8M253.6,675.6H255.8M259.74,671V679.6M258.64,671H260.84M258.64,679.6H260.84M300.06,671.1V680.1M298.96,671.1H301.16M298.96,680.1H301.16M305.1,667.8V676.6M304,667.8H306.2M304,676.6H306.2" stroke="#6a6ad8" stroke-width="0.75" fill="none"/>
<clipPath id="cSAW"><rect x="197.5" y="628.2" width="126" height="128.1"/></clipPath>
<polygon clip-path="url(#cSAW)" points="201.78,677.9 206.82,670.05 211.86,671.09 216.9,669.74 221.94,675.07 226.98,680.16 232.02,674.95 237.06,685.13 242.1,692.03 247.14,701.02 252.18,693.8 257.22,688.66 262.26,686.37 267.3,687.98 272.34,693.42 277.38,693.79 282.42,693.9 287.46,698.74 292.5,699.44 297.54,701.34 302.58,699.38 307.62,695.02 312.66,699.85 317.7,713.3 322.74,718 322.74,750.6 317.7,745.28 312.66,731.2 307.62,725.72 302.58,729.41 297.54,730.69 292.5,728.08 287.46,726.66 282.42,721.06 277.38,720.18 272.34,719 267.3,712.72 262.26,710.23 257.22,711.61 252.18,715.79 247.14,721.98 242.1,711.91 237.06,703.85 232.02,692.42 226.98,696.25 221.94,689.63 216.9,682.53 211.86,681.75 206.82,677.85 201.78,677.9" fill="rgba(0,0,0,0.15)" stroke-linejoin="round"/>
<polyline points="201.78,677.9 206.82,673.95 211.86,676.42 216.9,676.14 221.94,682.35 226.98,688.21 232.02,683.69 237.06,694.49 242.1,701.97 247.14,711.5 252.18,704.79 257.22,700.14 262.26,698.3 267.3,700.35 272.34,706.21 277.38,706.98 282.42,707.48 287.46,712.7 292.5,713.76 297.54,716.02 302.58,714.39 307.62,710.37 312.66,715.52 317.7,729.29 322.74,734.3" fill="none" stroke="#000" stroke-width="1.05" stroke-linejoin="round"/>
<path d="M197.5,648.2V756.3H323.5V648.2M195.3,677.9H197.5M195.3,712.2H197.5M195.3,746.8H197.5M321.3,648.2H323.5M321.3,677.9H323.5M321.3,707.6H323.5M321.3,737.3H323.5M202.54,756.3V757.9M227.74,756.3V757.9M252.94,756.3V757.9M278.14,756.3V757.9M303.34,756.3V757.9" stroke="#6a6a6a" stroke-width="0.85" fill="none"/>
<g fill="#111" stroke="#111" stroke-width="0.12">
<text x="192.3" y="680.7" font-size="7" text-anchor="end" >0</text>
<text x="192.3" y="715" font-size="7" text-anchor="end" >&#8722;80</text>
<text x="192.3" y="749.6" font-size="7" text-anchor="end" >&#8722;160</text>
<text x="326.7" y="651" font-size="7" text-anchor="start" >1.5</text>
<text x="326.7" y="680.7" font-size="7" text-anchor="start" >0</text>
<text x="325.5" y="710.4" font-size="7" text-anchor="start" >&#8722;1.5</text>
<text x="325.5" y="740.1" font-size="7" text-anchor="start" >&#8722;3.0</text>
<text x="202.54" y="766.1" font-size="7" text-anchor="middle" >2000</text>
<text x="227.74" y="766.1" font-size="7" text-anchor="middle" >2005</text>
<text x="252.94" y="766.1" font-size="7" text-anchor="middle" >2010</text>
<text x="278.14" y="766.1" font-size="7" text-anchor="middle" >2015</text>
<text x="303.34" y="766.1" font-size="7" text-anchor="middle" >2020</text>
<text x="201.3" y="736.7" font-size="7" text-anchor="start" >&#8722;5.4 &#177; 1.6 Gt yr<tspan font-size="4.6" dy="-4.2">&#8722;1</tspan></text>
<text x="201.3" y="744.1" font-size="7" text-anchor="start" >&#8722;130 &#177; 38 Gt</text>
<text x="201.3" y="752.8" font-size="7" text-anchor="start" >South Asia west</text>
</g>
<g>
<rect x="374.17" y="677.9" width="5.16" height="1.5" fill="rgba(255,0,0,0.205)"/>
<rect x="379.21" y="677.9" width="5.16" height="11.5" fill="rgba(255,0,0,0.205)"/>
<rect x="384.25" y="677.9" width="5.16" height="8.8" fill="rgba(255,0,0,0.205)"/>
<rect x="389.29" y="677.9" width="5.16" height="10.4" fill="rgba(255,0,0,0.205)"/>
<rect x="394.33" y="677.9" width="5.16" height="13.9" fill="rgba(255,0,0,0.205)"/>
<rect x="399.37" y="677.9" width="5.16" height="5.4" fill="rgba(255,0,0,0.205)"/>
<rect x="404.41" y="677.9" width="5.16" height="15.9" fill="rgba(255,0,0,0.205)"/>
<rect x="409.45" y="677.9" width="5.16" height="7.5" fill="rgba(255,0,0,0.205)"/>
<rect x="414.49" y="677.9" width="5.16" height="8.3" fill="rgba(255,0,0,0.205)"/>
<rect x="419.53" y="677.9" width="5.16" height="7.9" fill="rgba(255,0,0,0.205)"/>
<rect x="424.57" y="677.9" width="5.16" height="8.3" fill="rgba(255,0,0,0.205)"/>
<rect x="429.61" y="674.8" width="5.16" height="3.1" fill="rgba(40,40,190,0.23)"/>
<rect x="434.65" y="677.9" width="5.16" height="9.5" fill="rgba(255,0,0,0.205)"/>
<rect x="439.69" y="677.9" width="5.16" height="9.6" fill="rgba(255,0,0,0.205)"/>
<rect x="444.73" y="677.9" width="5.16" height="10.3" fill="rgba(255,0,0,0.205)"/>
<rect x="449.77" y="677.9" width="5.16" height="9.5" fill="rgba(255,0,0,0.205)"/>
<rect x="454.81" y="677.9" width="5.16" height="4.1" fill="rgba(255,0,0,0.205)"/>
<rect x="459.85" y="677.9" width="5.16" height="28.1" fill="rgba(255,0,0,0.205)"/>
<rect x="464.89" y="677.9" width="5.16" height="3.6" fill="rgba(255,0,0,0.205)"/>
<rect x="469.93" y="677.9" width="5.16" height="13.5" fill="rgba(255,0,0,0.205)"/>
<rect x="474.97" y="677.9" width="5.16" height="9" fill="rgba(255,0,0,0.205)"/>
<rect x="480.01" y="677.9" width="5.16" height="2.6" fill="rgba(255,0,0,0.205)"/>
<rect x="485.05" y="677.9" width="5.16" height="22.6" fill="rgba(255,0,0,0.205)"/>
<rect x="490.09" y="677.9" width="5.16" height="27.6" fill="rgba(255,0,0,0.205)"/>
</g>
<line x1="370.6" y1="677.9" x2="496.6" y2="677.9" stroke="#9a9a9a" stroke-width="0.8"/>
<path d="M376.75,672.3V686.5M375.65,672.3H377.85M375.65,686.5H377.85M381.79,682.3V696.5M380.69,682.3H382.89M380.69,696.5H382.89M386.83,679.4V694M385.73,679.4H387.93M385.73,694H387.93M391.87,681.3V695.3M390.77,681.3H392.97M390.77,695.3H392.97M396.91,684.5V699.1M395.81,684.5H398.01M395.81,699.1H398.01M401.95,676V690.6M400.85,676H403.05M400.85,690.6H403.05M406.99,686.4V701.2M405.89,686.4H408.09M405.89,701.2H408.09M412.03,678.3V692.5M410.93,678.3H413.13M410.93,692.5H413.13M417.07,678.8V693.6M415.97,678.8H418.17M415.97,693.6H418.17M422.11,678.9V692.7M421.01,678.9H423.21M421.01,692.7H423.21M427.15,678.8V693.6M426.05,678.8H428.25M426.05,693.6H428.25M437.23,680.2V694.6M436.13,680.2H438.33M436.13,694.6H438.33M442.27,680.1V694.9M441.17,680.1H443.37M441.17,694.9H443.37M447.31,680.9V695.5M446.21,680.9H448.41M446.21,695.5H448.41M452.35,680.2V694.6M451.25,680.2H453.45M451.25,694.6H453.45M457.39,674.6V689.4M456.29,674.6H458.49M456.29,689.4H458.49M462.43,697.7V714.3M461.33,697.7H463.53M461.33,714.3H463.53M467.47,674.2V688.8M466.37,674.2H468.57M466.37,688.8H468.57M472.51,684.2V698.6M471.41,684.2H473.61M471.41,698.6H473.61M477.55,679.3V694.5M476.45,679.3H478.65M476.45,694.5H478.65M482.59,669.4V691.6M481.49,669.4H483.69M481.49,691.6H483.69M487.63,688.3V712.7M486.53,688.3H488.73M486.53,712.7H488.73M492.67,693.3V717.7M491.57,693.3H493.77M491.57,717.7H493.77" stroke="#fa6b6b" stroke-width="0.75" fill="none"/>
<path d="M432.19,667.6V682M431.09,667.6H433.29M431.09,682H433.29" stroke="#6a6ad8" stroke-width="0.75" fill="none"/>
<clipPath id="cSAE"><rect x="370.6" y="628.2" width="126" height="128.1"/></clipPath>
<polygon clip-path="url(#cSAE)" points="374.23,677.9 379.27,676.88 384.31,678.84 389.35,680.3 394.39,682.21 399.43,684.98 404.47,685.81 409.51,689.11 414.55,690.47 419.59,692.05 424.63,693.54 429.67,695.14 434.71,694.12 439.75,696.02 444.79,697.95 449.83,700.05 454.87,701.98 459.91,702.66 464.95,708.9 469.99,709.48 475.03,712.35 480.07,714.19 485.11,714.55 490.15,719.54 495.19,725.7 495.19,744.1 490.15,737.48 485.11,732.01 480.07,731.17 475.03,728.84 469.99,725.47 464.95,724.38 459.91,717.62 454.87,716.4 449.83,713.93 444.79,711.26 439.75,708.75 434.71,706.26 429.67,706.66 424.63,704.42 419.59,702.26 414.55,699.99 409.51,697.89 404.47,693.82 399.43,692.16 394.39,688.49 389.35,685.59 384.31,682.98 379.27,679.61 374.23,677.9" fill="rgba(0,0,0,0.15)" stroke-linejoin="round"/>
<polyline points="374.23,677.9 379.27,678.25 384.31,680.91 389.35,682.95 394.39,685.35 399.43,688.57 404.47,689.82 409.51,693.5 414.55,695.23 419.59,697.15 424.63,698.98 429.67,700.9 434.71,700.19 439.75,702.38 444.79,704.61 449.83,706.99 454.87,709.19 459.91,710.14 464.95,716.64 469.99,717.47 475.03,720.6 480.07,722.68 485.11,723.28 490.15,728.51 495.19,734.9" fill="none" stroke="#000" stroke-width="1.05" stroke-linejoin="round"/>
<path d="M370.6,648.2V756.3H496.6V648.2M368.4,677.9H370.6M368.4,709.8H370.6M368.4,741.4H370.6M494.4,648.2H496.6M494.4,677.9H496.6M494.4,707.6H496.6M494.4,737.3H496.6M375.64,756.3V757.9M400.84,756.3V757.9M426.04,756.3V757.9M451.24,756.3V757.9M476.44,756.3V757.9" stroke="#6a6a6a" stroke-width="0.85" fill="none"/>
<g fill="#111" stroke="#111" stroke-width="0.12">
<text x="365.4" y="680.7" font-size="7" text-anchor="end" >0</text>
<text x="365.4" y="712.6" font-size="7" text-anchor="end" >&#8722;100</text>
<text x="365.4" y="744.2" font-size="7" text-anchor="end" >&#8722;200</text>
<text x="499.8" y="651" font-size="7" text-anchor="start" >1.5</text>
<text x="499.8" y="680.7" font-size="7" text-anchor="start" >0</text>
<text x="498.6" y="710.4" font-size="7" text-anchor="start" >&#8722;1.5</text>
<text x="498.6" y="740.1" font-size="7" text-anchor="start" >&#8722;3.0</text>
<text x="375.64" y="766.1" font-size="7" text-anchor="middle" >2000</text>
<text x="400.84" y="766.1" font-size="7" text-anchor="middle" >2005</text>
<text x="426.04" y="766.1" font-size="7" text-anchor="middle" >2010</text>
<text x="451.24" y="766.1" font-size="7" text-anchor="middle" >2015</text>
<text x="476.44" y="766.1" font-size="7" text-anchor="middle" >2020</text>
<text x="374.4" y="736.7" font-size="7" text-anchor="start" >&#8722;7.3 &#177; 1.2 Gt yr<tspan font-size="4.6" dy="-4.2">&#8722;1</tspan></text>
<text x="374.4" y="744.1" font-size="7" text-anchor="start" >&#8722;175 &#177; 29 Gt</text>
<text x="374.4" y="752.8" font-size="7" text-anchor="start" >South Asia east</text>
</g>
<g>
<rect x="546.67" y="674.9" width="5.16" height="3" fill="rgba(40,40,190,0.23)"/>
<rect x="551.71" y="677.9" width="5.16" height="2.7" fill="rgba(255,0,0,0.205)"/>
<rect x="556.75" y="677.9" width="5.16" height="11" fill="rgba(255,0,0,0.205)"/>
<rect x="561.79" y="677.9" width="5.16" height="13.5" fill="rgba(255,0,0,0.205)"/>
<rect x="566.83" y="677.9" width="5.16" height="21.4" fill="rgba(255,0,0,0.205)"/>
<rect x="571.87" y="677.9" width="5.16" height="24.5" fill="rgba(255,0,0,0.205)"/>
<rect x="576.91" y="677.9" width="5.16" height="5.5" fill="rgba(255,0,0,0.205)"/>
<rect x="581.95" y="675.4" width="5.16" height="2.5" fill="rgba(40,40,190,0.23)"/>
<rect x="586.99" y="668.3" width="5.16" height="9.6" fill="rgba(40,40,190,0.23)"/>
<rect x="592.03" y="677.9" width="5.16" height="17.4" fill="rgba(255,0,0,0.205)"/>
<rect x="597.07" y="677.9" width="5.16" height="17.4" fill="rgba(255,0,0,0.205)"/>
<rect x="602.11" y="677.9" width="5.16" height="1.3" fill="rgba(255,0,0,0.205)"/>
<rect x="607.15" y="677.9" width="5.16" height="0.3" fill="rgba(255,0,0,0.205)"/>
<rect x="612.19" y="677.9" width="5.16" height="5.5" fill="rgba(255,0,0,0.205)"/>
<rect x="617.23" y="677.9" width="5.16" height="2.6" fill="rgba(255,0,0,0.205)"/>
<rect x="622.27" y="677.9" width="5.16" height="17.4" fill="rgba(255,0,0,0.205)"/>
<rect x="627.31" y="677.9" width="5.16" height="24.5" fill="rgba(255,0,0,0.205)"/>
<rect x="632.35" y="677.9" width="5.16" height="6.8" fill="rgba(255,0,0,0.205)"/>
<rect x="637.39" y="677.9" width="5.16" height="1.2" fill="rgba(255,0,0,0.205)"/>
<rect x="642.43" y="677.9" width="5.16" height="9.9" fill="rgba(255,0,0,0.205)"/>
<rect x="647.47" y="677.9" width="5.16" height="6.3" fill="rgba(255,0,0,0.205)"/>
<rect x="652.51" y="676.8" width="5.16" height="1.1" fill="rgba(40,40,190,0.23)"/>
<rect x="657.55" y="677.7" width="5.16" height="0.2" fill="rgba(40,40,190,0.23)"/>
<rect x="662.59" y="677.9" width="5.16" height="26.5" fill="rgba(255,0,0,0.205)"/>
</g>
<line x1="542.7" y1="677.9" x2="668.7" y2="677.9" stroke="#9a9a9a" stroke-width="0.8"/>
<path d="M554.29,676.3V684.9M553.19,676.3H555.39M553.19,684.9H555.39M559.33,684.3V693.5M558.23,684.3H560.43M558.23,693.5H560.43M564.37,687.2V695.6M563.27,687.2H565.47M563.27,695.6H565.47M569.41,695.3V703.3M568.31,695.3H570.51M568.31,703.3H570.51M574.45,698.4V706.4M573.35,698.4H575.55M573.35,706.4H575.55M579.49,679.4V687.4M578.39,679.4H580.59M578.39,687.4H580.59M594.61,691.3V699.3M593.51,691.3H595.71M593.51,699.3H595.71M599.65,691.3V699.3M598.55,691.3H600.75M598.55,699.3H600.75M604.69,675.3V683.1M603.59,675.3H605.79M603.59,683.1H605.79M609.73,674.2V682.2M608.63,674.2H610.83M608.63,682.2H610.83M614.77,679.1V687.7M613.67,679.1H615.87M613.67,687.7H615.87M619.81,676.4V684.6M618.71,676.4H620.91M618.71,684.6H620.91M624.85,691.3V699.3M623.75,691.3H625.95M623.75,699.3H625.95M629.89,698.2V706.6M628.79,698.2H630.99M628.79,706.6H630.99M634.93,680.1V689.3M633.83,680.1H636.03M633.83,689.3H636.03M639.97,673.6V684.6M638.87,673.6H641.07M638.87,684.6H641.07M645.01,682.1V693.5M643.91,682.1H646.11M643.91,693.5H646.11M650.05,676V692.4M648.95,676H651.15M648.95,692.4H651.15M665.17,687.2V721.6M664.07,687.2H666.27M664.07,721.6H666.27" stroke="#fa6b6b" stroke-width="0.75" fill="none"/>
<path d="M549.25,670.4V679.4M548.15,670.4H550.35M548.15,679.4H550.35M584.53,671.3V679.5M583.43,671.3H585.63M583.43,679.5H585.63M589.57,664.4V672.2M588.47,664.4H590.67M588.47,672.2H590.67M655.09,665.4V688.2M653.99,665.4H656.19M653.99,688.2H656.19M660.13,666V689.4M659.03,666H661.23M659.03,689.4H661.23" stroke="#6a6ad8" stroke-width="0.75" fill="none"/>
<clipPath id="cLowLat"><rect x="542.7" y="628.2" width="126" height="128.1"/></clipPath>
<polygon clip-path="url(#cLowLat)" points="546.73,677.9 551.77,676.24 556.81,676.72 561.85,679.62 566.89,684.38 571.93,690.36 576.97,695.73 582.01,696.13 587.05,695.54 592.09,692.78 597.13,696.43 602.17,701.59 607.21,702.22 612.25,702.44 617.29,702.84 622.33,703.62 627.37,706.72 632.41,710.95 637.45,714.79 642.49,715.98 647.53,716.73 652.57,717.39 657.61,717.82 662.65,718.42 667.69,723.6 667.69,742.6 662.65,736.94 657.61,735.85 652.57,734.93 647.53,733.76 642.49,732.5 637.45,730.78 632.41,726.4 627.37,721.61 622.33,717.95 617.29,716.59 612.25,715.6 607.21,714.75 602.17,713.48 597.13,707.67 592.09,703.33 587.05,705.37 582.01,705.2 576.97,704 571.93,697.77 566.89,690.86 561.85,685.08 556.81,681 551.77,679.06 546.73,677.9" fill="rgba(0,0,0,0.15)" stroke-linejoin="round"/>
<polyline points="546.73,677.9 551.77,677.65 556.81,678.86 561.85,682.35 566.89,687.62 571.93,694.06 576.97,699.87 582.01,700.67 587.05,700.46 592.09,698.05 597.13,702.05 602.17,707.53 607.21,708.49 612.25,709.02 617.29,709.71 622.33,710.79 627.37,714.16 632.41,718.67 637.45,722.79 642.49,724.24 647.53,725.25 652.57,726.16 657.61,726.84 662.65,727.68 667.69,733.1" fill="none" stroke="#000" stroke-width="1.05" stroke-linejoin="round"/>
<path d="M542.7,648.2V756.3H668.7V648.2M540.5,650.1H542.7M540.5,677.9H542.7M540.5,705.5H542.7M540.5,733H542.7M666.5,648.2H668.7M666.5,677.9H668.7M666.5,707.6H668.7M666.5,737.3H668.7M547.74,756.3V757.9M572.94,756.3V757.9M598.14,756.3V757.9M623.34,756.3V757.9M648.54,756.3V757.9" stroke="#6a6a6a" stroke-width="0.85" fill="none"/>
<g fill="#111" stroke="#111" stroke-width="0.12">
<text x="537.5" y="652.9" font-size="7" text-anchor="end" >10</text>
<text x="537.5" y="680.7" font-size="7" text-anchor="end" >0</text>
<text x="537.5" y="708.3" font-size="7" text-anchor="end" >&#8722;10</text>
<text x="537.5" y="735.8" font-size="7" text-anchor="end" >&#8722;20</text>
<text x="671.9" y="651" font-size="7" text-anchor="start" >1.5</text>
<text x="671.9" y="680.7" font-size="7" text-anchor="start" >0</text>
<text x="670.7" y="710.4" font-size="7" text-anchor="start" >&#8722;1.5</text>
<text x="670.7" y="740.1" font-size="7" text-anchor="start" >&#8722;3.0</text>
<text x="547.74" y="766.1" font-size="7" text-anchor="middle" >2000</text>
<text x="572.94" y="766.1" font-size="7" text-anchor="middle" >2005</text>
<text x="598.14" y="766.1" font-size="7" text-anchor="middle" >2010</text>
<text x="623.34" y="766.1" font-size="7" text-anchor="middle" >2015</text>
<text x="648.54" y="766.1" font-size="7" text-anchor="middle" >2020</text>
<text x="546.5" y="736.7" font-size="7" text-anchor="start" >&#8722;0.9 &#177; 0.2 Gt yr<tspan font-size="4.6" dy="-4.2">&#8722;1</tspan></text>
<text x="546.5" y="744.1" font-size="7" text-anchor="start" >&#8722;20 &#177; 4 Gt</text>
<text x="546.5" y="752.8" font-size="7" text-anchor="start" >Low latitudes</text>
</g>
<g>
<rect x="115.09" y="802" width="5.16" height="11.4" fill="rgba(40,40,190,0.23)"/>
<rect x="120.13" y="813.4" width="5.16" height="20.6" fill="rgba(255,0,0,0.205)"/>
<rect x="125.17" y="813.4" width="5.16" height="1" fill="rgba(255,0,0,0.205)"/>
<rect x="130.21" y="813.4" width="5.16" height="26.8" fill="rgba(255,0,0,0.205)"/>
<rect x="135.25" y="813.4" width="5.16" height="29.2" fill="rgba(255,0,0,0.205)"/>
<rect x="140.29" y="812.1" width="5.16" height="1.3" fill="rgba(40,40,190,0.23)"/>
<rect x="145.33" y="813.4" width="5.16" height="15.5" fill="rgba(255,0,0,0.205)"/>
<rect x="150.37" y="813.4" width="5.16" height="28.4" fill="rgba(255,0,0,0.205)"/>
<rect x="155.41" y="813.4" width="5.16" height="16.5" fill="rgba(255,0,0,0.205)"/>
<rect x="160.45" y="800.2" width="5.16" height="13.2" fill="rgba(40,40,190,0.23)"/>
<rect x="165.49" y="813.4" width="5.16" height="30.5" fill="rgba(255,0,0,0.205)"/>
<rect x="170.53" y="813.4" width="5.16" height="46.6" fill="rgba(255,0,0,0.205)"/>
<rect x="175.57" y="813.4" width="5.16" height="6.4" fill="rgba(255,0,0,0.205)"/>
<rect x="180.61" y="813.4" width="5.16" height="1.4" fill="rgba(255,0,0,0.205)"/>
<rect x="185.65" y="813.4" width="5.16" height="2.2" fill="rgba(255,0,0,0.205)"/>
<rect x="190.69" y="813.4" width="5.16" height="40.4" fill="rgba(255,0,0,0.205)"/>
<rect x="195.73" y="813.4" width="5.16" height="41.3" fill="rgba(255,0,0,0.205)"/>
<rect x="200.77" y="813.4" width="5.16" height="21.5" fill="rgba(255,0,0,0.205)"/>
<rect x="205.81" y="813.4" width="5.16" height="26.4" fill="rgba(255,0,0,0.205)"/>
<rect x="210.85" y="813.4" width="5.16" height="13.2" fill="rgba(255,0,0,0.205)"/>
<rect x="215.89" y="813.4" width="5.16" height="28" fill="rgba(255,0,0,0.205)"/>
<rect x="220.93" y="813.4" width="5.16" height="21.2" fill="rgba(255,0,0,0.205)"/>
<rect x="225.97" y="813.4" width="5.16" height="26.2" fill="rgba(255,0,0,0.205)"/>
</g>
<line x1="108.6" y1="813.4" x2="234.6" y2="813.4" stroke="#9a9a9a" stroke-width="0.8"/>
<path d="M122.71,807.5V860.5M121.61,807.5H123.81M121.61,860.5H123.81M127.75,793.2V835.6M126.65,793.2H128.85M126.65,835.6H128.85M132.79,820V860.4M131.69,820H133.89M131.69,860.4H133.89M137.83,822.5V862.7M136.73,822.5H138.93M136.73,862.7H138.93M147.91,808.4V849.4M146.81,808.4H149.01M146.81,849.4H149.01M152.95,821.2V862.4M151.85,821.2H154.05M151.85,862.4H154.05M157.99,809.3V850.5M156.89,809.3H159.09M156.89,850.5H159.09M168.07,823.4V864.4M166.97,823.4H169.17M166.97,864.4H169.17M173.11,840V880M172.01,840H174.21M172.01,880H174.21M178.15,803.1V836.5M177.05,803.1H179.25M177.05,836.5H179.25M183.19,798.3V831.3M182.09,798.3H184.29M182.09,831.3H184.29M188.23,799V832.2M187.13,799H189.33M187.13,832.2H189.33M193.27,837V870.6M192.17,837H194.37M192.17,870.6H194.37M198.31,837.1V872.3M197.21,837.1H199.41M197.21,872.3H199.41M203.35,819.3V850.5M202.25,819.3H204.45M202.25,850.5H204.45M208.39,824.2V855.4M207.29,824.2H209.49M207.29,855.4H209.49M213.43,808.8V844.4M212.33,808.8H214.53M212.33,844.4H214.53M218.47,818.2V864.6M217.37,818.2H219.57M217.37,864.6H219.57M223.51,806.4V862.8M222.41,806.4H224.61M222.41,862.8H224.61M228.55,808.5V870.7M227.45,808.5H229.65M227.45,870.7H229.65" stroke="#fa6b6b" stroke-width="0.75" fill="none"/>
<path d="M117.67,775.5V828.5M116.57,775.5H118.77M116.57,828.5H118.77M142.87,791.7V832.5M141.77,791.7H143.97M141.77,832.5H143.97M163.03,780.3V820.1M161.93,780.3H164.13M161.93,820.1H164.13" stroke="#6a6ad8" stroke-width="0.75" fill="none"/>
<clipPath id="cSouthernAndes"><rect x="108.6" y="764.4" width="126" height="127.4"/></clipPath>
<polygon clip-path="url(#cSouthernAndes)" points="115.15,813.4 120.19,809.76 125.23,811.45 130.27,810.71 135.31,813.54 140.35,816.77 145.39,815.96 150.43,817.45 155.47,820.7 160.51,822.38 165.55,820.09 170.59,823.7 175.63,829.49 180.67,829.89 185.71,829.63 190.75,829.49 195.79,834.5 200.83,839.64 205.87,842.13 210.91,845.29 215.95,846.68 220.99,850.06 226.03,852.54 231.07,855.7 231.07,883.3 226.03,879.42 220.99,876.2 215.95,872.06 210.91,869.9 205.87,865.96 200.83,862.66 195.79,856.7 190.75,850.85 185.71,850.12 180.67,849.49 175.63,848.17 170.59,841.43 165.55,836.84 160.51,838.1 155.47,835.35 150.43,830.97 145.39,828.28 140.35,827.82 135.31,823.2 130.27,818.84 125.23,817.82 120.19,813.97 115.15,813.4" fill="rgba(0,0,0,0.15)" stroke-linejoin="round"/>
<polyline points="115.15,813.4 120.19,811.87 125.23,814.64 130.27,814.77 135.31,818.37 140.35,822.3 145.39,822.12 150.43,824.21 155.47,828.02 160.51,830.24 165.55,828.47 170.59,832.57 175.63,838.83 180.67,839.69 185.71,839.88 190.75,840.17 195.79,845.6 200.83,851.15 205.87,854.04 210.91,857.59 215.95,859.37 220.99,863.13 226.03,865.98 231.07,869.5" fill="none" stroke="#000" stroke-width="1.05" stroke-linejoin="round"/>
<path d="M108.6,784.4V891.8H234.6V784.4M106.4,785.4H108.6M106.4,813.4H108.6M106.4,841.1H108.6M106.4,868.5H108.6M232.4,784.4H234.6M232.4,813.4H234.6M232.4,842.4H234.6M232.4,871.4H234.6M113.64,891.8V893.4M138.84,891.8V893.4M164.04,891.8V893.4M189.24,891.8V893.4M214.44,891.8V893.4" stroke="#6a6a6a" stroke-width="0.85" fill="none"/>
<g fill="#111" stroke="#111" stroke-width="0.12">
<text x="103.4" y="788.2" font-size="7" text-anchor="end" >300</text>
<text x="103.4" y="816.2" font-size="7" text-anchor="end" >0</text>
<text x="103.4" y="843.9" font-size="7" text-anchor="end" >&#8722;300</text>
<text x="103.4" y="871.3" font-size="7" text-anchor="end" >&#8722;600</text>
<text x="237.8" y="787.2" font-size="7" text-anchor="start" >1.5</text>
<text x="237.8" y="816.2" font-size="7" text-anchor="start" >0</text>
<text x="236.6" y="845.2" font-size="7" text-anchor="start" >&#8722;1.5</text>
<text x="236.6" y="874.2" font-size="7" text-anchor="start" >&#8722;3.0</text>
<text x="113.64" y="901.6" font-size="7" text-anchor="middle" >2000</text>
<text x="138.84" y="901.6" font-size="7" text-anchor="middle" >2005</text>
<text x="164.04" y="901.6" font-size="7" text-anchor="middle" >2010</text>
<text x="189.24" y="901.6" font-size="7" text-anchor="middle" >2015</text>
<text x="214.44" y="901.6" font-size="7" text-anchor="middle" >2020</text>
<text x="111.4" y="873.4" font-size="7" text-anchor="start" >&#8722;26.5 &#177; 6.5 Gt yr<tspan font-size="4.6" dy="-4.2">&#8722;1</tspan></text>
<text x="111.4" y="880.8" font-size="7" text-anchor="start" >&#8722;610 &#177; 148 Gt</text>
<text x="111.4" y="889.5" font-size="7" text-anchor="start" >Southern Andes</text>
</g>
<g>
<rect x="286.74" y="811.4" width="5.16" height="2" fill="rgba(40,40,190,0.23)"/>
<rect x="291.78" y="813.4" width="5.16" height="26.2" fill="rgba(255,0,0,0.205)"/>
<rect x="296.82" y="813.4" width="5.16" height="19.3" fill="rgba(255,0,0,0.205)"/>
<rect x="301.86" y="813.4" width="5.16" height="35.1" fill="rgba(255,0,0,0.205)"/>
<rect x="306.9" y="794.9" width="5.16" height="18.5" fill="rgba(40,40,190,0.23)"/>
<rect x="311.94" y="811.1" width="5.16" height="2.3" fill="rgba(40,40,190,0.23)"/>
<rect x="316.98" y="807.6" width="5.16" height="5.8" fill="rgba(40,40,190,0.23)"/>
<rect x="322.02" y="813.4" width="5.16" height="42.4" fill="rgba(255,0,0,0.205)"/>
<rect x="327.06" y="813.4" width="5.16" height="23.4" fill="rgba(255,0,0,0.205)"/>
<rect x="332.1" y="813.4" width="5.16" height="4.6" fill="rgba(255,0,0,0.205)"/>
<rect x="337.14" y="813.4" width="5.16" height="51.4" fill="rgba(255,0,0,0.205)"/>
<rect x="342.18" y="813.4" width="5.16" height="21.7" fill="rgba(255,0,0,0.205)"/>
<rect x="347.22" y="812.8" width="5.16" height="0.6" fill="rgba(40,40,190,0.23)"/>
<rect x="352.26" y="813.4" width="5.16" height="0.1" fill="rgba(255,0,0,0.205)"/>
<rect x="357.3" y="813.4" width="5.16" height="1.1" fill="rgba(255,0,0,0.205)"/>
<rect x="362.34" y="813.4" width="5.16" height="31.7" fill="rgba(255,0,0,0.205)"/>
<rect x="367.38" y="810.8" width="5.16" height="2.6" fill="rgba(40,40,190,0.23)"/>
<rect x="372.42" y="813.4" width="5.16" height="54.4" fill="rgba(255,0,0,0.205)"/>
<rect x="377.46" y="813.4" width="5.16" height="43.1" fill="rgba(255,0,0,0.205)"/>
<rect x="382.5" y="813.4" width="5.16" height="33.8" fill="rgba(255,0,0,0.205)"/>
<rect x="387.54" y="813.4" width="5.16" height="11.4" fill="rgba(255,0,0,0.205)"/>
<rect x="392.58" y="813.4" width="5.16" height="34" fill="rgba(255,0,0,0.205)"/>
<rect x="397.62" y="813.4" width="5.16" height="33.7" fill="rgba(255,0,0,0.205)"/>
</g>
<line x1="280.25" y1="813.4" x2="406.25" y2="813.4" stroke="#9a9a9a" stroke-width="0.8"/>
<path d="M294.36,832.3V846.9M293.26,832.3H295.46M293.26,846.9H295.46M299.4,825.4V840M298.3,825.4H300.5M298.3,840H300.5M304.44,841.3V855.7M303.34,841.3H305.54M303.34,855.7H305.54M324.6,849.1V862.5M323.5,849.1H325.7M323.5,862.5H325.7M329.64,830.1V843.5M328.54,830.1H330.74M328.54,843.5H330.74M334.68,811.2V824.8M333.58,811.2H335.78M333.58,824.8H335.78M339.72,858.2V871.4M338.62,858.2H340.82M338.62,871.4H340.82M344.76,828.3V841.9M343.66,828.3H345.86M343.66,841.9H345.86M354.84,806.6V820.4M353.74,806.6H355.94M353.74,820.4H355.94M359.88,807.4V821.6M358.78,807.4H360.98M358.78,821.6H360.98M364.92,837.8V852.4M363.82,837.8H366.02M363.82,852.4H366.02M375,860.2V875.4M373.9,860.2H376.1M373.9,875.4H376.1M380.04,848.6V864.4M378.94,848.6H381.14M378.94,864.4H381.14M385.08,839V855.4M383.98,839H386.18M383.98,855.4H386.18M390.12,815.1V834.5M389.02,815.1H391.22M389.02,834.5H391.22M395.16,834.3V860.5M394.06,834.3H396.26M394.06,860.5H396.26M400.2,834.4V859.8M399.1,834.4H401.3M399.1,859.8H401.3" stroke="#fa6b6b" stroke-width="0.75" fill="none"/>
<path d="M289.32,804.3V818.5M288.22,804.3H290.42M288.22,818.5H290.42M309.48,788.3V801.5M308.38,788.3H310.58M308.38,801.5H310.58M314.52,804.3V817.9M313.42,804.3H315.62M313.42,817.9H315.62M319.56,800.6V814.6M318.46,800.6H320.66M318.46,814.6H320.66M349.8,806.1V819.5M348.7,806.1H350.9M348.7,819.5H350.9M369.96,803.2V818.4M368.86,803.2H371.06M368.86,818.4H371.06" stroke="#6a6ad8" stroke-width="0.75" fill="none"/>
<clipPath id="cNewZealand"><rect x="280.25" y="764.4" width="126" height="127.4"/></clipPath>
<polygon clip-path="url(#cNewZealand)" points="286.8,813.4 291.84,812.26 296.88,815.18 301.92,817.3 306.96,821.51 312,818.83 317.04,818.27 322.08,817.27 327.12,822.5 332.16,825.3 337.2,825.67 342.24,832.1 347.28,834.7 352.32,834.43 357.36,834.25 362.4,834.21 367.44,838.13 372.48,837.62 377.52,844.47 382.56,849.86 387.6,854.06 392.64,855.37 397.68,859.6 402.72,863.8 402.72,875.4 397.68,870.9 392.64,866.36 387.6,864.73 382.56,860.21 377.52,854.48 372.48,847.29 367.44,847.46 362.4,843.19 357.36,842.86 352.32,842.66 347.28,842.55 342.24,839.55 337.2,832.71 332.16,831.9 327.12,828.66 322.08,822.95 317.04,823.45 312,823.48 306.96,825.57 301.92,820.72 296.88,817.86 291.84,814.03 286.8,813.4" fill="rgba(0,0,0,0.15)" stroke-linejoin="round"/>
<polyline points="286.8,813.4 291.84,813.14 296.88,816.52 301.92,819.01 306.96,823.54 312,821.15 317.04,820.86 322.08,820.11 327.12,825.58 332.16,828.6 337.2,829.19 342.24,835.82 347.28,838.62 352.32,838.55 357.36,838.56 362.4,838.7 367.44,842.79 372.48,842.45 377.52,849.47 382.56,855.03 387.6,859.39 392.64,860.87 397.68,865.25 402.72,869.6" fill="none" stroke="#000" stroke-width="1.05" stroke-linejoin="round"/>
<path d="M280.25,784.4V891.8H406.25V784.4M278.05,784.4H280.25M278.05,813.3H280.25M278.05,842.3H280.25M278.05,871.3H280.25M404.05,784.4H406.25M404.05,813.4H406.25M404.05,842.4H406.25M404.05,871.4H406.25M285.29,891.8V893.4M310.49,891.8V893.4M335.69,891.8V893.4M360.89,891.8V893.4M386.09,891.8V893.4" stroke="#6a6a6a" stroke-width="0.85" fill="none"/>
<g fill="#111" stroke="#111" stroke-width="0.12">
<text x="275.05" y="787.2" font-size="7" text-anchor="end" >10</text>
<text x="275.05" y="816.1" font-size="7" text-anchor="end" >0</text>
<text x="275.05" y="845.1" font-size="7" text-anchor="end" >&#8722;10</text>
<text x="275.05" y="874.1" font-size="7" text-anchor="end" >&#8722;20</text>
<text x="409.45" y="787.2" font-size="7" text-anchor="start" >1.5</text>
<text x="409.45" y="816.2" font-size="7" text-anchor="start" >0</text>
<text x="408.25" y="845.2" font-size="7" text-anchor="start" >&#8722;1.5</text>
<text x="408.25" y="874.2" font-size="7" text-anchor="start" >&#8722;3.0</text>
<text x="285.29" y="901.6" font-size="7" text-anchor="middle" >2000</text>
<text x="310.49" y="901.6" font-size="7" text-anchor="middle" >2005</text>
<text x="335.69" y="901.6" font-size="7" text-anchor="middle" >2010</text>
<text x="360.89" y="901.6" font-size="7" text-anchor="middle" >2015</text>
<text x="386.09" y="901.6" font-size="7" text-anchor="middle" >2020</text>
<text x="283.05" y="873.4" font-size="7" text-anchor="start" >&#8722;0.8 &#177; 0.1 Gt yr<tspan font-size="4.6" dy="-4.2">&#8722;1</tspan></text>
<text x="283.05" y="880.8" font-size="7" text-anchor="start" >&#8722;19 &#177; 2 Gt</text>
<text x="283.05" y="889.5" font-size="7" text-anchor="start" >New Zealand</text>
</g>
<g>
<rect x="459.14" y="812.2" width="5.16" height="1.2" fill="rgba(40,40,190,0.23)"/>
<rect x="464.18" y="813.4" width="5.16" height="6.9" fill="rgba(255,0,0,0.205)"/>
<rect x="469.22" y="813.4" width="5.16" height="5.6" fill="rgba(255,0,0,0.205)"/>
<rect x="474.26" y="812.9" width="5.16" height="0.5" fill="rgba(40,40,190,0.23)"/>
<rect x="479.3" y="813.1" width="5.16" height="0.3" fill="rgba(40,40,190,0.23)"/>
<rect x="484.34" y="813.4" width="5.16" height="9.3" fill="rgba(255,0,0,0.205)"/>
<rect x="489.38" y="813.4" width="5.16" height="4.8" fill="rgba(255,0,0,0.205)"/>
<rect x="494.42" y="813.4" width="5.16" height="1.3" fill="rgba(255,0,0,0.205)"/>
<rect x="499.46" y="813.4" width="5.16" height="5.2" fill="rgba(255,0,0,0.205)"/>
<rect x="504.5" y="807.7" width="5.16" height="5.7" fill="rgba(40,40,190,0.23)"/>
<rect x="509.54" y="812.8" width="5.16" height="0.6" fill="rgba(40,40,190,0.23)"/>
<rect x="514.58" y="813.4" width="5.16" height="2.7" fill="rgba(255,0,0,0.205)"/>
<rect x="519.62" y="812.8" width="5.16" height="0.6" fill="rgba(40,40,190,0.23)"/>
<rect x="524.66" y="813.4" width="5.16" height="5.6" fill="rgba(255,0,0,0.205)"/>
<rect x="529.7" y="812" width="5.16" height="1.4" fill="rgba(40,40,190,0.23)"/>
<rect x="534.74" y="811.9" width="5.16" height="1.5" fill="rgba(40,40,190,0.23)"/>
<rect x="539.78" y="812.9" width="5.16" height="0.5" fill="rgba(40,40,190,0.23)"/>
<rect x="544.82" y="813.4" width="5.16" height="8.4" fill="rgba(255,0,0,0.205)"/>
<rect x="549.86" y="811.9" width="5.16" height="1.5" fill="rgba(40,40,190,0.23)"/>
<rect x="554.9" y="813.4" width="5.16" height="6.5" fill="rgba(255,0,0,0.205)"/>
<rect x="559.94" y="813.4" width="5.16" height="5.9" fill="rgba(255,0,0,0.205)"/>
<rect x="564.98" y="813.4" width="5.16" height="1" fill="rgba(255,0,0,0.205)"/>
<rect x="570.02" y="813.4" width="5.16" height="17.9" fill="rgba(255,0,0,0.205)"/>
</g>
<line x1="452.5" y1="813.4" x2="578.5" y2="813.4" stroke="#9a9a9a" stroke-width="0.8"/>
<path d="M466.76,813.2V827.4M465.66,813.2H467.86M465.66,827.4H467.86M471.8,811.2V826.8M470.7,811.2H472.9M470.7,826.8H472.9M486.92,817V828.4M485.82,817H488.02M485.82,828.4H488.02M491.96,812.5V823.9M490.86,812.5H493.06M490.86,823.9H493.06M497,809.3V820.1M495.9,809.3H498.1M495.9,820.1H498.1M502.04,813.3V823.9M500.94,813.3H503.14M500.94,823.9H503.14M517.16,810.4V821.8M516.06,810.4H518.26M516.06,821.8H518.26M527.24,813.4V824.6M526.14,813.4H528.34M526.14,824.6H528.34M547.4,816.3V827.3M546.3,816.3H548.5M546.3,827.3H548.5M557.48,814.2V825.6M556.38,814.2H558.58M556.38,825.6H558.58M562.52,813.8V824.8M561.42,813.8H563.62M561.42,824.8H563.62M567.56,808.3V820.5M566.46,808.3H568.66M566.46,820.5H568.66M572.6,824.9V837.7M571.5,824.9H573.7M571.5,837.7H573.7" stroke="#fa6b6b" stroke-width="0.75" fill="none"/>
<path d="M461.72,803.9V820.5M460.62,803.9H462.82M460.62,820.5H462.82M476.84,807V818.8M475.74,807H477.94M475.74,818.8H477.94M481.88,807.4V818.8M480.78,807.4H482.98M480.78,818.8H482.98M507.08,801V814.4M505.98,801H508.18M505.98,814.4H508.18M512.12,807.1V818.5M511.02,807.1H513.22M511.02,818.5H513.22M522.2,807.1V818.5M521.1,807.1H523.3M521.1,818.5H523.3M532.28,806.1V817.9M531.18,806.1H533.38M531.18,817.9H533.38M537.32,806.2V817.6M536.22,806.2H538.42M536.22,817.6H538.42M542.36,807V818.8M541.26,807H543.46M541.26,818.8H543.46M552.44,806.2V817.6M551.34,806.2H553.54M551.34,817.6H553.54" stroke="#6a6ad8" stroke-width="0.75" fill="none"/>
<clipPath id="cAntarctic"><rect x="452.5" y="764.4" width="126" height="127.4"/></clipPath>
<polygon clip-path="url(#cAntarctic)" points="459.2,811.94 464.24,804.29 469.28,806.17 474.32,807.99 479.36,807.43 484.4,810 489.44,815.95 494.48,816.98 499.52,815.75 504.56,818.08 509.6,815.66 514.64,817.42 519.68,817.06 524.72,818.15 529.76,818.3 534.8,817.18 539.84,817 544.88,818.09 549.92,819.87 554.96,817.36 560,822.4 565.04,826.2 570.08,827.68 575.12,840.98 575.12,893.71 570.08,882.41 565.04,877.9 560,874.6 554.96,868.46 549.92,867.39 544.88,860.92 539.84,859.79 534.8,860.48 529.76,861.2 524.72,858.19 519.68,856.24 514.64,853.87 509.6,853.91 504.56,858.7 499.52,852.47 494.48,848.71 489.44,844.69 484.4,836.11 479.36,833.53 474.32,831.06 469.28,824.83 464.24,817.36 459.2,813.97" fill="rgba(0,0,0,0.15)" stroke-linejoin="round"/>
<polyline points="459.2,813.26 464.24,812.74 469.28,817.8 474.32,823.09 479.36,822.59 484.4,822.11 489.44,830.21 494.48,834.7 499.52,836.05 504.56,840.68 509.6,835.15 514.64,834.25 519.68,835.91 524.72,835.52 529.76,840.03 534.8,838.7 539.84,837.28 544.88,836.79 549.92,844 554.96,842.86 560,847.9 565.04,852.85 570.08,854.41 575.12,868.31" fill="none" stroke="#000" stroke-width="1.05" stroke-linejoin="round"/>
<path d="M452.5,784.4V891.8H578.5V784.4M450.3,784.4H452.5M450.3,813.4H452.5M450.3,842.5H452.5M450.3,871.4H452.5M576.3,784.4H578.5M576.3,813.4H578.5M576.3,842.4H578.5M576.3,871.4H578.5M457.54,891.8V893.4M482.74,891.8V893.4M507.94,891.8V893.4M533.14,891.8V893.4M558.34,891.8V893.4" stroke="#6a6a6a" stroke-width="0.85" fill="none"/>
<g fill="#111" stroke="#111" stroke-width="0.12">
<text x="447.3" y="787.2" font-size="7" text-anchor="end" >200</text>
<text x="447.3" y="816.2" font-size="7" text-anchor="end" >0</text>
<text x="447.3" y="845.3" font-size="7" text-anchor="end" >&#8722;200</text>
<text x="447.3" y="874.2" font-size="7" text-anchor="end" >&#8722;400</text>
<text x="581.7" y="787.2" font-size="7" text-anchor="start" >1.5</text>
<text x="581.7" y="816.2" font-size="7" text-anchor="start" >0</text>
<text x="580.5" y="845.2" font-size="7" text-anchor="start" >&#8722;1.5</text>
<text x="580.5" y="874.2" font-size="7" text-anchor="start" >&#8722;3.0</text>
<text x="457.54" y="901.6" font-size="7" text-anchor="middle" >2000</text>
<text x="482.74" y="901.6" font-size="7" text-anchor="middle" >2005</text>
<text x="507.94" y="901.6" font-size="7" text-anchor="middle" >2010</text>
<text x="533.14" y="901.6" font-size="7" text-anchor="middle" >2015</text>
<text x="558.34" y="901.6" font-size="7" text-anchor="middle" >2020</text>
<text x="456" y="873.4" font-size="7" text-anchor="start" >&#8722;16.9 &#177; 8.2 Gt yr<tspan font-size="4.6" dy="-4.2">&#8722;1</tspan></text>
<text x="456" y="880.8" font-size="7" text-anchor="start" >&#8722;388 &#177; 189 Gt</text>
<text x="456" y="889.5" font-size="7" text-anchor="start" >Antarctic and subantarctic</text>
</g>
</svg>
</body></html>
